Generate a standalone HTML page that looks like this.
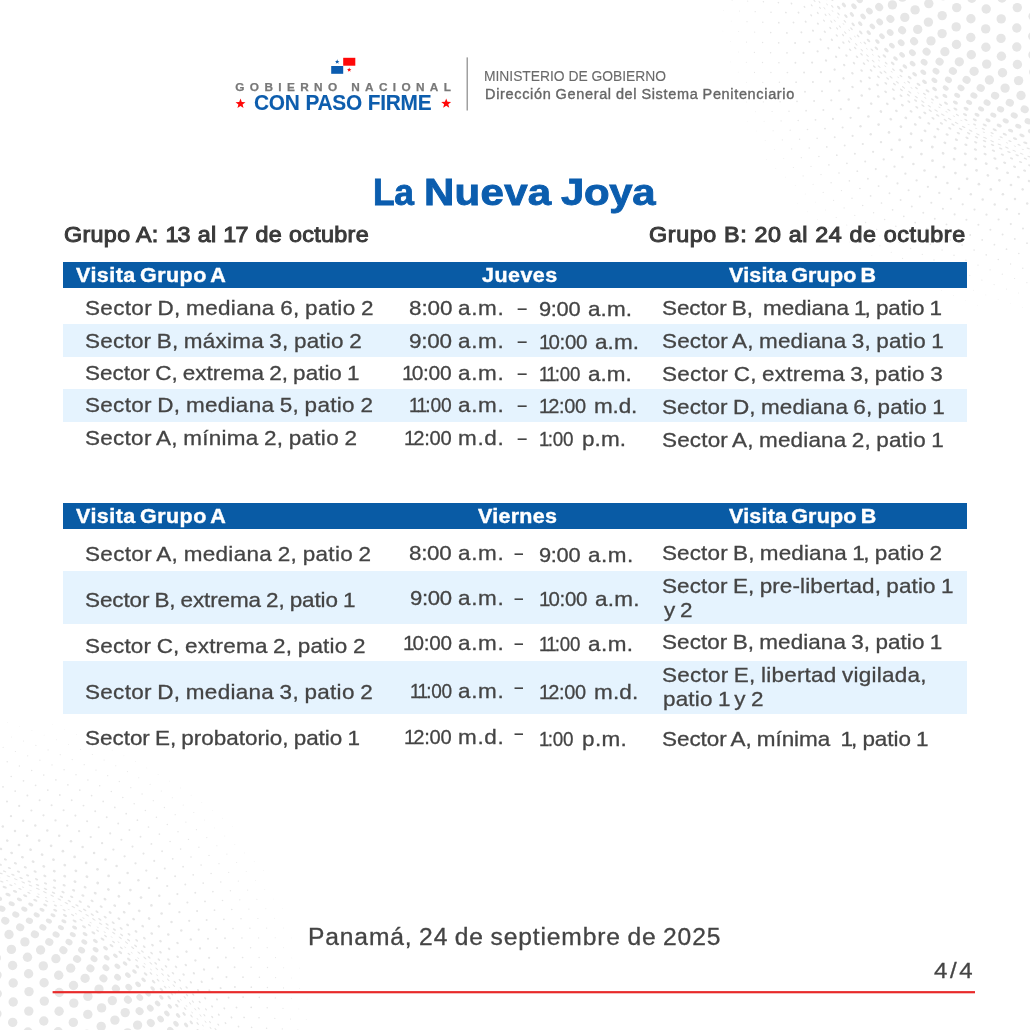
<!DOCTYPE html>
<html lang="es"><head><meta charset="utf-8"><title>La Nueva Joya</title>
<style>
html,body{margin:0;padding:0;background:#fff}
#page{position:relative;width:1030px;height:1030px;overflow:hidden;background:#fff;font-family:"Liberation Sans",sans-serif;color:#444444}
.t{position:absolute;white-space:pre;line-height:1;transform-origin:0 0}
.bar{position:absolute;left:63.2px;width:903.4px;background:#095ba5}
.st{position:absolute;left:63.2px;width:903.4px;background:#e5f3fe}
svg{position:absolute;left:0;top:0}
</style></head><body>
<div id="page">
<svg width="1030" height="1030" viewBox="0 0 1030 1030">
<g fill="#e6e6e6"><ellipse cx="-0.7" cy="877.6" rx="1.30" ry="0.39" transform="rotate(21 -0.7 877.6)"/><ellipse cx="7.2" cy="880.7" rx="1.30" ry="0.39" transform="rotate(21 7.2 880.7)"/><ellipse cx="15.1" cy="883.9" rx="1.30" ry="0.39" transform="rotate(22 15.1 883.9)"/><ellipse cx="23.0" cy="887.2" rx="1.30" ry="0.39" transform="rotate(23 23.0 887.2)"/><ellipse cx="30.7" cy="890.5" rx="1.30" ry="0.39" transform="rotate(24 30.7 890.5)"/><ellipse cx="38.5" cy="894.1" rx="1.30" ry="0.39" transform="rotate(25 38.5 894.1)"/><ellipse cx="46.1" cy="897.7" rx="1.30" ry="0.39" transform="rotate(26 46.1 897.7)"/><ellipse cx="53.8" cy="901.5" rx="1.30" ry="0.39" transform="rotate(27 53.8 901.5)"/><ellipse cx="61.3" cy="905.5" rx="1.30" ry="0.39" transform="rotate(28 61.3 905.5)"/><ellipse cx="68.7" cy="909.5" rx="1.30" ry="0.39" transform="rotate(29 68.7 909.5)"/><ellipse cx="76.1" cy="913.8" rx="1.30" ry="0.39" transform="rotate(30 76.1 913.8)"/><ellipse cx="83.4" cy="918.1" rx="1.30" ry="0.39" transform="rotate(31 83.4 918.1)"/><ellipse cx="90.6" cy="922.6" rx="1.30" ry="0.39" transform="rotate(33 90.6 922.6)"/><ellipse cx="97.7" cy="927.3" rx="1.30" ry="0.39" transform="rotate(34 97.7 927.3)"/><ellipse cx="104.7" cy="932.1" rx="1.30" ry="0.39" transform="rotate(35 104.7 932.1)"/><ellipse cx="111.7" cy="937.0" rx="1.30" ry="0.39" transform="rotate(36 111.7 937.0)"/><ellipse cx="118.5" cy="942.1" rx="1.30" ry="0.39" transform="rotate(37 118.5 942.1)"/><ellipse cx="125.2" cy="947.3" rx="1.30" ry="0.39" transform="rotate(38 125.2 947.3)"/><ellipse cx="131.8" cy="952.7" rx="1.30" ry="0.39" transform="rotate(40 131.8 952.7)"/><ellipse cx="138.3" cy="958.2" rx="1.30" ry="0.39" transform="rotate(41 138.3 958.2)"/><ellipse cx="144.7" cy="963.8" rx="1.30" ry="0.39" transform="rotate(42 144.7 963.8)"/><ellipse cx="151.0" cy="969.5" rx="1.30" ry="0.39" transform="rotate(43 151.0 969.5)"/><ellipse cx="157.2" cy="975.3" rx="1.30" ry="0.39" transform="rotate(44 157.2 975.3)"/><ellipse cx="163.2" cy="981.3" rx="1.30" ry="0.39" transform="rotate(45 163.2 981.3)"/><ellipse cx="169.2" cy="987.3" rx="1.30" ry="0.39" transform="rotate(46 169.2 987.3)"/><ellipse cx="175.1" cy="993.5" rx="1.30" ry="0.39" transform="rotate(47 175.1 993.5)"/><ellipse cx="180.8" cy="999.7" rx="1.30" ry="0.39" transform="rotate(48 180.8 999.7)"/><ellipse cx="186.5" cy="1006.0" rx="1.30" ry="0.39" transform="rotate(49 186.5 1006.0)"/><ellipse cx="192.1" cy="1012.5" rx="1.30" ry="0.39" transform="rotate(50 192.1 1012.5)"/><ellipse cx="197.5" cy="1019.0" rx="1.30" ry="0.39" transform="rotate(50 197.5 1019.0)"/><ellipse cx="202.9" cy="1025.6" rx="1.30" ry="0.39" transform="rotate(51 202.9 1025.6)"/><ellipse cx="208.2" cy="1032.2" rx="1.30" ry="0.39" transform="rotate(52 208.2 1032.2)"/><ellipse cx="1.8" cy="881.6" rx="1.78" ry="0.71" transform="rotate(21 1.8 881.6)"/><ellipse cx="10.9" cy="885.2" rx="1.78" ry="0.71" transform="rotate(22 10.9 885.2)"/><ellipse cx="20.0" cy="888.9" rx="1.78" ry="0.71" transform="rotate(23 20.0 888.9)"/><ellipse cx="28.9" cy="892.8" rx="1.78" ry="0.71" transform="rotate(24 28.9 892.8)"/><ellipse cx="37.9" cy="896.9" rx="1.78" ry="0.71" transform="rotate(25 37.9 896.9)"/><ellipse cx="46.7" cy="901.1" rx="1.78" ry="0.71" transform="rotate(26 46.7 901.1)"/><ellipse cx="55.4" cy="905.5" rx="1.78" ry="0.71" transform="rotate(27 55.4 905.5)"/><ellipse cx="64.1" cy="910.2" rx="1.78" ry="0.71" transform="rotate(29 64.1 910.2)"/><ellipse cx="72.6" cy="915.0" rx="1.78" ry="0.71" transform="rotate(30 72.6 915.0)"/><ellipse cx="81.1" cy="920.0" rx="1.78" ry="0.71" transform="rotate(31 81.1 920.0)"/><ellipse cx="89.4" cy="925.2" rx="1.78" ry="0.71" transform="rotate(33 89.4 925.2)"/><ellipse cx="97.6" cy="930.6" rx="1.78" ry="0.71" transform="rotate(34 97.6 930.6)"/><ellipse cx="105.6" cy="936.1" rx="1.78" ry="0.71" transform="rotate(35 105.6 936.1)"/><ellipse cx="113.5" cy="941.9" rx="1.78" ry="0.71" transform="rotate(37 113.5 941.9)"/><ellipse cx="121.3" cy="947.9" rx="1.78" ry="0.71" transform="rotate(38 121.3 947.9)"/><ellipse cx="129.0" cy="954.0" rx="1.78" ry="0.71" transform="rotate(39 129.0 954.0)"/><ellipse cx="136.5" cy="960.3" rx="1.78" ry="0.71" transform="rotate(41 136.5 960.3)"/><ellipse cx="143.8" cy="966.8" rx="1.78" ry="0.71" transform="rotate(42 143.8 966.8)"/><ellipse cx="151.0" cy="973.4" rx="1.78" ry="0.71" transform="rotate(43 151.0 973.4)"/><ellipse cx="158.1" cy="980.2" rx="1.78" ry="0.71" transform="rotate(44 158.1 980.2)"/><ellipse cx="165.1" cy="987.1" rx="1.78" ry="0.71" transform="rotate(45 165.1 987.1)"/><ellipse cx="171.9" cy="994.1" rx="1.78" ry="0.71" transform="rotate(47 171.9 994.1)"/><ellipse cx="178.5" cy="1001.3" rx="1.78" ry="0.71" transform="rotate(48 178.5 1001.3)"/><ellipse cx="185.1" cy="1008.6" rx="1.78" ry="0.71" transform="rotate(49 185.1 1008.6)"/><ellipse cx="191.5" cy="1016.1" rx="1.78" ry="0.71" transform="rotate(50 191.5 1016.1)"/><ellipse cx="197.7" cy="1023.6" rx="1.78" ry="0.71" transform="rotate(51 197.7 1023.6)"/><ellipse cx="203.9" cy="1031.2" rx="1.78" ry="0.71" transform="rotate(52 203.9 1031.2)"/><ellipse cx="-5.7" cy="883.3" rx="2.26" ry="1.13" transform="rotate(21 -5.7 883.3)"/><ellipse cx="4.7" cy="887.2" rx="2.26" ry="1.13" transform="rotate(21 4.7 887.2)"/><ellipse cx="15.0" cy="891.4" rx="2.26" ry="1.13" transform="rotate(23 15.0 891.4)"/><ellipse cx="25.2" cy="895.7" rx="2.26" ry="1.13" transform="rotate(24 25.2 895.7)"/><ellipse cx="35.3" cy="900.3" rx="2.26" ry="1.13" transform="rotate(25 35.3 900.3)"/><ellipse cx="45.3" cy="905.1" rx="2.26" ry="1.13" transform="rotate(26 45.3 905.1)"/><ellipse cx="55.2" cy="910.2" rx="2.26" ry="1.13" transform="rotate(28 55.2 910.2)"/><ellipse cx="65.0" cy="915.4" rx="2.26" ry="1.13" transform="rotate(29 65.0 915.4)"/><ellipse cx="74.6" cy="921.0" rx="2.26" ry="1.13" transform="rotate(31 74.6 921.0)"/><ellipse cx="84.0" cy="926.8" rx="2.26" ry="1.13" transform="rotate(32 84.0 926.8)"/><ellipse cx="93.4" cy="932.8" rx="2.26" ry="1.13" transform="rotate(34 93.4 932.8)"/><ellipse cx="102.5" cy="939.1" rx="2.26" ry="1.13" transform="rotate(35 102.5 939.1)"/><ellipse cx="111.5" cy="945.6" rx="2.26" ry="1.13" transform="rotate(37 111.5 945.6)"/><ellipse cx="120.3" cy="952.4" rx="2.26" ry="1.13" transform="rotate(38 120.3 952.4)"/><ellipse cx="128.9" cy="959.4" rx="2.26" ry="1.13" transform="rotate(40 128.9 959.4)"/><ellipse cx="137.3" cy="966.6" rx="2.26" ry="1.13" transform="rotate(41 137.3 966.6)"/><ellipse cx="145.6" cy="974.0" rx="2.26" ry="1.13" transform="rotate(43 145.6 974.0)"/><ellipse cx="153.6" cy="981.7" rx="2.26" ry="1.13" transform="rotate(44 153.6 981.7)"/><ellipse cx="161.5" cy="989.5" rx="2.26" ry="1.13" transform="rotate(45 161.5 989.5)"/><ellipse cx="169.2" cy="997.5" rx="2.26" ry="1.13" transform="rotate(47 169.2 997.5)"/><ellipse cx="176.8" cy="1005.6" rx="2.26" ry="1.13" transform="rotate(48 176.8 1005.6)"/><ellipse cx="184.1" cy="1013.9" rx="2.26" ry="1.13" transform="rotate(49 184.1 1013.9)"/><ellipse cx="191.3" cy="1022.4" rx="2.26" ry="1.13" transform="rotate(50 191.3 1022.4)"/><ellipse cx="198.3" cy="1031.0" rx="2.26" ry="1.13" transform="rotate(51 198.3 1031.0)"/><ellipse cx="-3.5" cy="890.0" rx="2.74" ry="1.64" transform="rotate(21 -3.5 890.0)"/><ellipse cx="8.0" cy="894.6" rx="2.74" ry="1.64" transform="rotate(22 8.0 894.6)"/><ellipse cx="19.4" cy="899.4" rx="2.74" ry="1.64" transform="rotate(23 19.4 899.4)"/><ellipse cx="30.8" cy="904.4" rx="2.74" ry="1.64" transform="rotate(25 30.8 904.4)"/><ellipse cx="42.0" cy="909.7" rx="2.74" ry="1.64" transform="rotate(26 42.0 909.7)"/><ellipse cx="53.0" cy="915.3" rx="2.74" ry="1.64" transform="rotate(28 53.0 915.3)"/><ellipse cx="63.9" cy="921.3" rx="2.74" ry="1.64" transform="rotate(29 63.9 921.3)"/><ellipse cx="74.6" cy="927.5" rx="2.74" ry="1.64" transform="rotate(31 74.6 927.5)"/><ellipse cx="85.1" cy="934.1" rx="2.74" ry="1.64" transform="rotate(33 85.1 934.1)"/><ellipse cx="95.4" cy="941.0" rx="2.74" ry="1.64" transform="rotate(35 95.4 941.0)"/><ellipse cx="105.5" cy="948.2" rx="2.74" ry="1.64" transform="rotate(36 105.5 948.2)"/><ellipse cx="115.4" cy="955.7" rx="2.74" ry="1.64" transform="rotate(38 115.4 955.7)"/><ellipse cx="125.1" cy="963.5" rx="2.74" ry="1.64" transform="rotate(40 125.1 963.5)"/><ellipse cx="134.5" cy="971.5" rx="2.74" ry="1.64" transform="rotate(41 134.5 971.5)"/><ellipse cx="143.6" cy="979.9" rx="2.74" ry="1.64" transform="rotate(43 143.6 979.9)"/><ellipse cx="152.6" cy="988.5" rx="2.74" ry="1.64" transform="rotate(45 152.6 988.5)"/><ellipse cx="161.3" cy="997.3" rx="2.74" ry="1.64" transform="rotate(46 161.3 997.3)"/><ellipse cx="169.8" cy="1006.3" rx="2.74" ry="1.64" transform="rotate(47 169.8 1006.3)"/><ellipse cx="178.1" cy="1015.5" rx="2.74" ry="1.64" transform="rotate(49 178.1 1015.5)"/><ellipse cx="186.1" cy="1025.0" rx="2.74" ry="1.64" transform="rotate(50 186.1 1025.0)"/><ellipse cx="194.0" cy="1034.6" rx="2.74" ry="1.64" transform="rotate(51 194.0 1034.6)"/><ellipse cx="-1.0" cy="898.5" rx="3.22" ry="2.25" transform="rotate(21 -1.0 898.5)"/><ellipse cx="11.7" cy="903.7" rx="3.22" ry="2.25" transform="rotate(23 11.7 903.7)"/><ellipse cx="24.3" cy="909.1" rx="3.22" ry="2.25" transform="rotate(24 24.3 909.1)"/><ellipse cx="36.7" cy="914.9" rx="3.22" ry="2.25" transform="rotate(26 36.7 914.9)"/><ellipse cx="48.9" cy="921.1" rx="3.22" ry="2.25" transform="rotate(28 48.9 921.1)"/><ellipse cx="60.9" cy="927.6" rx="3.22" ry="2.25" transform="rotate(30 60.9 927.6)"/><ellipse cx="72.8" cy="934.6" rx="3.22" ry="2.25" transform="rotate(31 72.8 934.6)"/><ellipse cx="84.3" cy="941.9" rx="3.22" ry="2.25" transform="rotate(33 84.3 941.9)"/><ellipse cx="95.6" cy="949.7" rx="3.22" ry="2.25" transform="rotate(35 95.6 949.7)"/><ellipse cx="106.7" cy="957.8" rx="3.22" ry="2.25" transform="rotate(37 106.7 957.8)"/><ellipse cx="117.4" cy="966.3" rx="3.22" ry="2.25" transform="rotate(39 117.4 966.3)"/><ellipse cx="127.9" cy="975.1" rx="3.22" ry="2.25" transform="rotate(41 127.9 975.1)"/><ellipse cx="138.1" cy="984.3" rx="3.22" ry="2.25" transform="rotate(43 138.1 984.3)"/><ellipse cx="148.0" cy="993.7" rx="3.22" ry="2.25" transform="rotate(45 148.0 993.7)"/><ellipse cx="157.6" cy="1003.5" rx="3.22" ry="2.25" transform="rotate(46 157.6 1003.5)"/><ellipse cx="166.9" cy="1013.5" rx="3.22" ry="2.25" transform="rotate(48 166.9 1013.5)"/><ellipse cx="176.0" cy="1023.8" rx="3.22" ry="2.25" transform="rotate(49 176.0 1023.8)"/><ellipse cx="184.8" cy="1034.3" rx="3.22" ry="2.25" transform="rotate(51 184.8 1034.3)"/><ellipse cx="1.9" cy="908.7" rx="3.70" ry="2.96" transform="rotate(22 1.9 908.7)"/><ellipse cx="15.8" cy="914.6" rx="3.70" ry="2.96" transform="rotate(24 15.8 914.6)"/><ellipse cx="29.4" cy="920.8" rx="3.70" ry="2.96" transform="rotate(25 29.4 920.8)"/><ellipse cx="42.9" cy="927.4" rx="3.70" ry="2.96" transform="rotate(27 42.9 927.4)"/><ellipse cx="56.1" cy="934.5" rx="3.70" ry="2.96" transform="rotate(29 56.1 934.5)"/><ellipse cx="69.0" cy="942.1" rx="3.70" ry="2.96" transform="rotate(32 69.0 942.1)"/><ellipse cx="81.6" cy="950.2" rx="3.70" ry="2.96" transform="rotate(34 81.6 950.2)"/><ellipse cx="94.0" cy="958.8" rx="3.70" ry="2.96" transform="rotate(36 94.0 958.8)"/><ellipse cx="105.9" cy="967.8" rx="3.70" ry="2.96" transform="rotate(38 105.9 967.8)"/><ellipse cx="117.6" cy="977.3" rx="3.70" ry="2.96" transform="rotate(40 117.6 977.3)"/><ellipse cx="128.8" cy="987.2" rx="3.70" ry="2.96" transform="rotate(42 128.8 987.2)"/><ellipse cx="139.8" cy="997.5" rx="3.70" ry="2.96" transform="rotate(44 139.8 997.5)"/><ellipse cx="150.3" cy="1008.1" rx="3.70" ry="2.96" transform="rotate(46 150.3 1008.1)"/><ellipse cx="160.6" cy="1019.0" rx="3.70" ry="2.96" transform="rotate(48 160.6 1019.0)"/><ellipse cx="170.5" cy="1030.3" rx="3.70" ry="2.96" transform="rotate(49 170.5 1030.3)"/><ellipse cx="5.3" cy="920.7" rx="4.18" ry="3.76" transform="rotate(23 5.3 920.7)"/><ellipse cx="20.2" cy="927.3" rx="4.18" ry="3.76" transform="rotate(25 20.2 927.3)"/><ellipse cx="34.9" cy="934.3" rx="4.18" ry="3.76" transform="rotate(27 34.9 934.3)"/><ellipse cx="49.3" cy="942.0" rx="4.18" ry="3.76" transform="rotate(29 49.3 942.0)"/><ellipse cx="63.4" cy="950.2" rx="4.18" ry="3.76" transform="rotate(31 63.4 950.2)"/><ellipse cx="77.1" cy="959.0" rx="4.18" ry="3.76" transform="rotate(34 77.1 959.0)"/><ellipse cx="90.4" cy="968.4" rx="4.18" ry="3.76" transform="rotate(36 90.4 968.4)"/><ellipse cx="103.4" cy="978.3" rx="4.18" ry="3.76" transform="rotate(39 103.4 978.3)"/><ellipse cx="115.9" cy="988.7" rx="4.18" ry="3.76" transform="rotate(41 115.9 988.7)"/><ellipse cx="127.9" cy="999.7" rx="4.18" ry="3.76" transform="rotate(43 127.9 999.7)"/><ellipse cx="139.6" cy="1011.1" rx="4.18" ry="3.76" transform="rotate(45 139.6 1011.1)"/><ellipse cx="150.8" cy="1022.9" rx="4.18" ry="3.76" transform="rotate(47 150.8 1022.9)"/><ellipse cx="161.7" cy="1035.1" rx="4.18" ry="3.76" transform="rotate(49 161.7 1035.1)"/><circle cx="9.0" cy="934.5" r="4.66"/><circle cx="24.9" cy="941.9" r="4.66"/><circle cx="40.6" cy="950.0" r="4.66"/><circle cx="55.9" cy="958.7" r="4.66"/><circle cx="70.7" cy="968.2" r="4.66"/><circle cx="85.1" cy="978.3" r="4.66"/><circle cx="99.0" cy="989.1" r="4.66"/><circle cx="112.3" cy="1000.6" r="4.66"/><circle cx="125.2" cy="1012.6" r="4.66"/><circle cx="137.6" cy="1025.1" r="4.66"/><circle cx="-5.1" cy="942.2" r="4.70"/><circle cx="11.4" cy="949.4" r="4.70"/><circle cx="27.5" cy="957.3" r="4.70"/><circle cx="43.3" cy="965.9" r="4.70"/><circle cx="58.7" cy="975.3" r="4.70"/><circle cx="73.5" cy="985.5" r="4.70"/><circle cx="87.9" cy="996.4" r="4.70"/><circle cx="101.6" cy="1007.9" r="4.70"/><circle cx="114.9" cy="1020.1" r="4.70"/><circle cx="127.6" cy="1032.9" r="4.70"/><circle cx="-3.8" cy="957.9" r="4.70"/><circle cx="12.6" cy="965.5" r="4.70"/><circle cx="28.6" cy="973.7" r="4.70"/><circle cx="44.1" cy="982.7" r="4.70"/><circle cx="59.2" cy="992.5" r="4.70"/><circle cx="73.8" cy="1003.1" r="4.70"/><circle cx="87.8" cy="1014.4" r="4.70"/><circle cx="101.2" cy="1026.4" r="4.70"/><circle cx="-3.0" cy="975.1" r="4.70"/><circle cx="13.2" cy="983.0" r="4.70"/><circle cx="29.0" cy="991.6" r="4.70"/><circle cx="44.3" cy="1001.1" r="4.70"/><circle cx="59.1" cy="1011.3" r="4.70"/><circle cx="73.3" cy="1022.4" r="4.70"/><circle cx="86.9" cy="1034.2" r="4.70"/><circle cx="-2.8" cy="993.8" r="4.70"/><circle cx="13.2" cy="1002.0" r="4.70"/><circle cx="28.8" cy="1011.1" r="4.70"/><circle cx="43.8" cy="1021.0" r="4.70"/><circle cx="58.2" cy="1031.8" r="4.70"/><circle cx="-3.1" cy="1013.8" r="4.70"/><circle cx="12.7" cy="1022.4" r="4.70"/><circle cx="28.0" cy="1032.0" r="4.70"/><circle cx="-3.5" cy="1033.9" r="4.70"/><ellipse cx="0.9" cy="873.4" rx="1.98" ry="0.59" transform="rotate(21 0.9 873.4)"/><ellipse cx="8.4" cy="876.3" rx="2.00" ry="0.60" transform="rotate(21 8.4 876.3)"/><ellipse cx="15.8" cy="879.3" rx="2.02" ry="0.61" transform="rotate(22 15.8 879.3)"/><ellipse cx="23.2" cy="882.4" rx="2.04" ry="0.61" transform="rotate(23 23.2 882.4)"/><ellipse cx="30.5" cy="885.5" rx="2.05" ry="0.62" transform="rotate(24 30.5 885.5)"/><ellipse cx="37.8" cy="888.8" rx="2.07" ry="0.62" transform="rotate(25 37.8 888.8)"/><ellipse cx="45.0" cy="892.2" rx="2.08" ry="0.62" transform="rotate(26 45.0 892.2)"/><ellipse cx="52.2" cy="895.7" rx="2.08" ry="0.62" transform="rotate(27 52.2 895.7)"/><ellipse cx="59.4" cy="899.4" rx="2.09" ry="0.63" transform="rotate(28 59.4 899.4)"/><ellipse cx="66.4" cy="903.1" rx="2.09" ry="0.63" transform="rotate(29 66.4 903.1)"/><ellipse cx="73.4" cy="907.0" rx="2.09" ry="0.63" transform="rotate(30 73.4 907.0)"/><ellipse cx="80.3" cy="911.0" rx="2.09" ry="0.63" transform="rotate(31 80.3 911.0)"/><ellipse cx="87.2" cy="915.2" rx="2.08" ry="0.62" transform="rotate(32 87.2 915.2)"/><ellipse cx="93.9" cy="919.4" rx="2.07" ry="0.62" transform="rotate(33 93.9 919.4)"/><ellipse cx="100.6" cy="923.8" rx="2.06" ry="0.62" transform="rotate(34 100.6 923.8)"/><ellipse cx="107.2" cy="928.3" rx="2.05" ry="0.62" transform="rotate(35 107.2 928.3)"/><ellipse cx="113.7" cy="933.0" rx="2.04" ry="0.61" transform="rotate(36 113.7 933.0)"/><ellipse cx="120.2" cy="937.8" rx="2.02" ry="0.61" transform="rotate(37 120.2 937.8)"/><ellipse cx="126.5" cy="942.6" rx="2.00" ry="0.60" transform="rotate(38 126.5 942.6)"/><ellipse cx="132.7" cy="947.7" rx="1.98" ry="0.59" transform="rotate(39 132.7 947.7)"/><ellipse cx="138.9" cy="952.8" rx="1.96" ry="0.59" transform="rotate(40 138.9 952.8)"/><ellipse cx="144.9" cy="958.0" rx="1.93" ry="0.58" transform="rotate(41 144.9 958.0)"/><ellipse cx="150.9" cy="963.3" rx="1.90" ry="0.57" transform="rotate(42 150.9 963.3)"/><ellipse cx="156.8" cy="968.8" rx="1.88" ry="0.56" transform="rotate(43 156.8 968.8)"/><ellipse cx="162.6" cy="974.3" rx="1.84" ry="0.55" transform="rotate(44 162.6 974.3)"/><ellipse cx="168.2" cy="979.9" rx="1.81" ry="0.54" transform="rotate(45 168.2 979.9)"/><ellipse cx="173.8" cy="985.6" rx="1.78" ry="0.53" transform="rotate(46 173.8 985.6)"/><ellipse cx="179.3" cy="991.4" rx="1.74" ry="0.52" transform="rotate(47 179.3 991.4)"/><ellipse cx="184.8" cy="997.3" rx="1.70" ry="0.51" transform="rotate(48 184.8 997.3)"/><ellipse cx="190.1" cy="1003.3" rx="1.67" ry="0.50" transform="rotate(49 190.1 1003.3)"/><ellipse cx="195.3" cy="1009.3" rx="1.63" ry="0.49" transform="rotate(49 195.3 1009.3)"/><ellipse cx="200.5" cy="1015.5" rx="1.58" ry="0.48" transform="rotate(50 200.5 1015.5)"/><ellipse cx="205.5" cy="1021.7" rx="1.54" ry="0.46" transform="rotate(51 205.5 1021.7)"/><ellipse cx="210.5" cy="1027.9" rx="1.49" ry="0.45" transform="rotate(52 210.5 1027.9)"/><ellipse cx="215.4" cy="1034.2" rx="1.45" ry="0.43" transform="rotate(53 215.4 1034.2)"/><ellipse cx="-3.7" cy="868.3" rx="1.81" ry="0.76" transform="rotate(20 -3.7 868.3)"/><ellipse cx="4.6" cy="871.4" rx="1.83" ry="0.77" transform="rotate(21 4.6 871.4)"/><ellipse cx="12.9" cy="874.7" rx="1.86" ry="0.78" transform="rotate(22 12.9 874.7)"/><ellipse cx="21.1" cy="878.0" rx="1.87" ry="0.79" transform="rotate(23 21.1 878.0)"/><ellipse cx="29.3" cy="881.5" rx="1.89" ry="0.79" transform="rotate(23 29.3 881.5)"/><ellipse cx="37.5" cy="885.1" rx="1.90" ry="0.80" transform="rotate(24 37.5 885.1)"/><ellipse cx="45.5" cy="888.9" rx="1.92" ry="0.80" transform="rotate(25 45.5 888.9)"/><ellipse cx="53.5" cy="892.8" rx="1.92" ry="0.81" transform="rotate(27 53.5 892.8)"/><ellipse cx="61.4" cy="896.8" rx="1.93" ry="0.81" transform="rotate(28 61.4 896.8)"/><ellipse cx="69.3" cy="901.0" rx="1.93" ry="0.81" transform="rotate(29 69.3 901.0)"/><ellipse cx="77.0" cy="905.4" rx="1.93" ry="0.81" transform="rotate(30 77.0 905.4)"/><ellipse cx="84.7" cy="909.9" rx="1.93" ry="0.81" transform="rotate(31 84.7 909.9)"/><ellipse cx="92.3" cy="914.6" rx="1.92" ry="0.81" transform="rotate(32 92.3 914.6)"/><ellipse cx="99.8" cy="919.4" rx="1.91" ry="0.80" transform="rotate(33 99.8 919.4)"/><ellipse cx="107.1" cy="924.4" rx="1.90" ry="0.80" transform="rotate(35 107.1 924.4)"/><ellipse cx="114.4" cy="929.5" rx="1.88" ry="0.79" transform="rotate(36 114.4 929.5)"/><ellipse cx="121.6" cy="934.8" rx="1.87" ry="0.78" transform="rotate(37 121.6 934.8)"/><ellipse cx="128.6" cy="940.2" rx="1.85" ry="0.78" transform="rotate(38 128.6 940.2)"/><ellipse cx="135.6" cy="945.8" rx="1.83" ry="0.77" transform="rotate(39 135.6 945.8)"/><ellipse cx="142.4" cy="951.5" rx="1.80" ry="0.76" transform="rotate(41 142.4 951.5)"/><ellipse cx="149.1" cy="957.4" rx="1.77" ry="0.75" transform="rotate(42 149.1 957.4)"/><ellipse cx="155.7" cy="963.4" rx="1.75" ry="0.73" transform="rotate(43 155.7 963.4)"/><ellipse cx="162.2" cy="969.5" rx="1.72" ry="0.72" transform="rotate(44 162.2 969.5)"/><ellipse cx="168.5" cy="975.7" rx="1.68" ry="0.71" transform="rotate(45 168.5 975.7)"/><ellipse cx="174.8" cy="982.0" rx="1.65" ry="0.69" transform="rotate(46 174.8 982.0)"/><ellipse cx="180.9" cy="988.4" rx="1.61" ry="0.68" transform="rotate(47 180.9 988.4)"/><ellipse cx="187.0" cy="995.0" rx="1.57" ry="0.66" transform="rotate(48 187.0 995.0)"/><ellipse cx="192.9" cy="1001.6" rx="1.53" ry="0.64" transform="rotate(49 192.9 1001.6)"/><ellipse cx="198.7" cy="1008.4" rx="1.49" ry="0.63" transform="rotate(50 198.7 1008.4)"/><ellipse cx="204.4" cy="1015.2" rx="1.45" ry="0.61" transform="rotate(51 204.4 1015.2)"/><ellipse cx="210.0" cy="1022.1" rx="1.40" ry="0.59" transform="rotate(51 210.0 1022.1)"/><ellipse cx="215.5" cy="1029.1" rx="1.35" ry="0.57" transform="rotate(52 215.5 1029.1)"/><ellipse cx="0.3" cy="864.6" rx="1.69" ry="0.91" transform="rotate(20 0.3 864.6)"/><ellipse cx="9.4" cy="868.0" rx="1.72" ry="0.93" transform="rotate(21 9.4 868.0)"/><ellipse cx="18.5" cy="871.7" rx="1.74" ry="0.94" transform="rotate(22 18.5 871.7)"/><ellipse cx="27.6" cy="875.4" rx="1.75" ry="0.95" transform="rotate(23 27.6 875.4)"/><ellipse cx="36.6" cy="879.3" rx="1.77" ry="0.96" transform="rotate(24 36.6 879.3)"/><ellipse cx="45.5" cy="883.4" rx="1.78" ry="0.96" transform="rotate(25 45.5 883.4)"/><ellipse cx="54.3" cy="887.7" rx="1.79" ry="0.97" transform="rotate(26 54.3 887.7)"/><ellipse cx="63.0" cy="892.1" rx="1.80" ry="0.97" transform="rotate(28 63.0 892.1)"/><ellipse cx="71.7" cy="896.8" rx="1.80" ry="0.97" transform="rotate(29 71.7 896.8)"/><ellipse cx="80.2" cy="901.6" rx="1.80" ry="0.97" transform="rotate(30 80.2 901.6)"/><ellipse cx="88.6" cy="906.6" rx="1.79" ry="0.97" transform="rotate(31 88.6 906.6)"/><ellipse cx="97.0" cy="911.7" rx="1.79" ry="0.96" transform="rotate(33 97.0 911.7)"/><ellipse cx="105.2" cy="917.1" rx="1.78" ry="0.96" transform="rotate(34 105.2 917.1)"/><ellipse cx="113.2" cy="922.7" rx="1.76" ry="0.95" transform="rotate(35 113.2 922.7)"/><ellipse cx="121.2" cy="928.4" rx="1.75" ry="0.94" transform="rotate(36 121.2 928.4)"/><ellipse cx="129.0" cy="934.3" rx="1.73" ry="0.93" transform="rotate(38 129.0 934.3)"/><ellipse cx="136.7" cy="940.4" rx="1.71" ry="0.92" transform="rotate(39 136.7 940.4)"/><ellipse cx="144.2" cy="946.7" rx="1.68" ry="0.91" transform="rotate(40 144.2 946.7)"/><ellipse cx="151.6" cy="953.1" rx="1.66" ry="0.89" transform="rotate(42 151.6 953.1)"/><ellipse cx="158.9" cy="959.6" rx="1.63" ry="0.88" transform="rotate(43 158.9 959.6)"/><ellipse cx="166.0" cy="966.4" rx="1.59" ry="0.86" transform="rotate(44 166.0 966.4)"/><ellipse cx="173.0" cy="973.2" rx="1.56" ry="0.84" transform="rotate(45 173.0 973.2)"/><ellipse cx="179.9" cy="980.2" rx="1.52" ry="0.82" transform="rotate(46 179.9 980.2)"/><ellipse cx="186.6" cy="987.4" rx="1.49" ry="0.80" transform="rotate(47 186.6 987.4)"/><ellipse cx="193.2" cy="994.6" rx="1.45" ry="0.78" transform="rotate(48 193.2 994.6)"/><ellipse cx="199.7" cy="1002.0" rx="1.40" ry="0.76" transform="rotate(49 199.7 1002.0)"/><ellipse cx="206.0" cy="1009.4" rx="1.36" ry="0.73" transform="rotate(50 206.0 1009.4)"/><ellipse cx="212.2" cy="1017.0" rx="1.31" ry="0.71" transform="rotate(51 212.2 1017.0)"/><ellipse cx="218.3" cy="1024.7" rx="1.26" ry="0.68" transform="rotate(52 218.3 1024.7)"/><ellipse cx="224.3" cy="1032.5" rx="1.21" ry="0.65" transform="rotate(53 224.3 1032.5)"/><ellipse cx="-4.6" cy="855.7" rx="1.56" ry="1.03" transform="rotate(20 -4.6 855.7)"/><ellipse cx="5.4" cy="859.4" rx="1.59" ry="1.05" transform="rotate(21 5.4 859.4)"/><ellipse cx="15.4" cy="863.3" rx="1.61" ry="1.06" transform="rotate(22 15.4 863.3)"/><ellipse cx="25.3" cy="867.3" rx="1.63" ry="1.08" transform="rotate(23 25.3 867.3)"/><ellipse cx="35.1" cy="871.5" rx="1.65" ry="1.09" transform="rotate(24 35.1 871.5)"/><ellipse cx="44.9" cy="875.9" rx="1.66" ry="1.10" transform="rotate(25 44.9 875.9)"/><ellipse cx="54.6" cy="880.5" rx="1.67" ry="1.10" transform="rotate(26 54.6 880.5)"/><ellipse cx="64.1" cy="885.3" rx="1.68" ry="1.11" transform="rotate(27 64.1 885.3)"/><ellipse cx="73.6" cy="890.3" rx="1.68" ry="1.11" transform="rotate(29 73.6 890.3)"/><ellipse cx="82.9" cy="895.5" rx="1.68" ry="1.11" transform="rotate(30 82.9 895.5)"/><ellipse cx="92.1" cy="900.9" rx="1.68" ry="1.11" transform="rotate(31 92.1 900.9)"/><ellipse cx="101.2" cy="906.6" rx="1.67" ry="1.10" transform="rotate(33 101.2 906.6)"/><ellipse cx="110.1" cy="912.5" rx="1.66" ry="1.10" transform="rotate(34 110.1 912.5)"/><ellipse cx="118.9" cy="918.6" rx="1.65" ry="1.09" transform="rotate(35 118.9 918.6)"/><ellipse cx="127.6" cy="924.9" rx="1.63" ry="1.08" transform="rotate(37 127.6 924.9)"/><ellipse cx="136.0" cy="931.4" rx="1.61" ry="1.06" transform="rotate(38 136.0 931.4)"/><ellipse cx="144.4" cy="938.2" rx="1.59" ry="1.05" transform="rotate(40 144.4 938.2)"/><ellipse cx="152.5" cy="945.1" rx="1.56" ry="1.03" transform="rotate(41 152.5 945.1)"/><ellipse cx="160.5" cy="952.2" rx="1.53" ry="1.01" transform="rotate(42 160.5 952.2)"/><ellipse cx="168.4" cy="959.5" rx="1.50" ry="0.99" transform="rotate(44 168.4 959.5)"/><ellipse cx="176.0" cy="966.9" rx="1.46" ry="0.97" transform="rotate(45 176.0 966.9)"/><ellipse cx="183.6" cy="974.5" rx="1.43" ry="0.94" transform="rotate(46 183.6 974.5)"/><ellipse cx="190.9" cy="982.3" rx="1.39" ry="0.92" transform="rotate(47 190.9 982.3)"/><ellipse cx="198.1" cy="990.2" rx="1.35" ry="0.89" transform="rotate(48 198.1 990.2)"/><ellipse cx="205.2" cy="998.3" rx="1.30" ry="0.86" transform="rotate(49 205.2 998.3)"/><ellipse cx="212.1" cy="1006.4" rx="1.26" ry="0.83" transform="rotate(50 212.1 1006.4)"/><ellipse cx="218.8" cy="1014.7" rx="1.21" ry="0.80" transform="rotate(51 218.8 1014.7)"/><ellipse cx="225.5" cy="1023.1" rx="1.16" ry="0.76" transform="rotate(52 225.5 1023.1)"/><ellipse cx="231.9" cy="1031.7" rx="1.10" ry="0.73" transform="rotate(53 231.9 1031.7)"/><ellipse cx="0.8" cy="848.9" rx="1.47" ry="1.14" transform="rotate(20 0.8 848.9)"/><ellipse cx="11.6" cy="852.9" rx="1.49" ry="1.17" transform="rotate(21 11.6 852.9)"/><ellipse cx="22.4" cy="857.2" rx="1.52" ry="1.18" transform="rotate(22 22.4 857.2)"/><ellipse cx="33.1" cy="861.6" rx="1.54" ry="1.20" transform="rotate(23 33.1 861.6)"/><ellipse cx="43.8" cy="866.3" rx="1.55" ry="1.21" transform="rotate(24 43.8 866.3)"/><ellipse cx="54.3" cy="871.1" rx="1.56" ry="1.22" transform="rotate(26 54.3 871.1)"/><ellipse cx="64.7" cy="876.2" rx="1.57" ry="1.23" transform="rotate(27 64.7 876.2)"/><ellipse cx="75.0" cy="881.6" rx="1.58" ry="1.23" transform="rotate(28 75.0 881.6)"/><ellipse cx="85.1" cy="887.2" rx="1.58" ry="1.23" transform="rotate(30 85.1 887.2)"/><ellipse cx="95.2" cy="893.1" rx="1.57" ry="1.23" transform="rotate(31 95.2 893.1)"/><ellipse cx="105.0" cy="899.2" rx="1.57" ry="1.22" transform="rotate(33 105.0 899.2)"/><ellipse cx="114.7" cy="905.6" rx="1.56" ry="1.21" transform="rotate(34 114.7 905.6)"/><ellipse cx="124.2" cy="912.2" rx="1.54" ry="1.20" transform="rotate(36 124.2 912.2)"/><ellipse cx="133.6" cy="919.1" rx="1.52" ry="1.19" transform="rotate(37 133.6 919.1)"/><ellipse cx="142.7" cy="926.2" rx="1.50" ry="1.17" transform="rotate(39 142.7 926.2)"/><ellipse cx="151.7" cy="933.5" rx="1.48" ry="1.15" transform="rotate(40 151.7 933.5)"/><ellipse cx="160.5" cy="941.1" rx="1.45" ry="1.13" transform="rotate(41 160.5 941.1)"/><ellipse cx="169.1" cy="948.8" rx="1.42" ry="1.11" transform="rotate(43 169.1 948.8)"/><ellipse cx="177.6" cy="956.8" rx="1.39" ry="1.08" transform="rotate(44 177.6 956.8)"/><ellipse cx="185.8" cy="965.0" rx="1.35" ry="1.05" transform="rotate(45 185.8 965.0)"/><ellipse cx="193.9" cy="973.3" rx="1.31" ry="1.02" transform="rotate(47 193.9 973.3)"/><ellipse cx="201.7" cy="981.8" rx="1.27" ry="0.99" transform="rotate(48 201.7 981.8)"/><ellipse cx="209.4" cy="990.5" rx="1.22" ry="0.95" transform="rotate(49 209.4 990.5)"/><ellipse cx="217.0" cy="999.3" rx="1.18" ry="0.92" transform="rotate(50 217.0 999.3)"/><ellipse cx="224.3" cy="1008.3" rx="1.13" ry="0.88" transform="rotate(51 224.3 1008.3)"/><ellipse cx="231.5" cy="1017.4" rx="1.07" ry="0.84" transform="rotate(52 231.5 1017.4)"/><ellipse cx="238.5" cy="1026.6" rx="1.02" ry="0.79" transform="rotate(53 238.5 1026.6)"/><ellipse cx="245.4" cy="1036.0" rx="0.96" ry="0.75" transform="rotate(54 245.4 1036.0)"/><ellipse cx="-4.4" cy="836.4" rx="1.35" ry="1.21" transform="rotate(19 -4.4 836.4)"/><ellipse cx="7.3" cy="840.6" rx="1.38" ry="1.24" transform="rotate(20 7.3 840.6)"/><ellipse cx="19.0" cy="845.0" rx="1.40" ry="1.26" transform="rotate(21 19.0 845.0)"/><ellipse cx="30.6" cy="849.7" rx="1.43" ry="1.28" transform="rotate(22 30.6 849.7)"/><ellipse cx="42.1" cy="854.6" rx="1.44" ry="1.30" transform="rotate(24 42.1 854.6)"/><ellipse cx="53.5" cy="859.7" rx="1.46" ry="1.31" transform="rotate(25 53.5 859.7)"/><ellipse cx="64.8" cy="865.1" rx="1.47" ry="1.32" transform="rotate(26 64.8 865.1)"/><ellipse cx="75.9" cy="870.8" rx="1.47" ry="1.32" transform="rotate(28 75.9 870.8)"/><ellipse cx="86.9" cy="876.7" rx="1.47" ry="1.33" transform="rotate(29 86.9 876.7)"/><ellipse cx="97.7" cy="883.0" rx="1.47" ry="1.32" transform="rotate(31 97.7 883.0)"/><ellipse cx="108.4" cy="889.5" rx="1.46" ry="1.32" transform="rotate(32 108.4 889.5)"/><ellipse cx="118.9" cy="896.3" rx="1.45" ry="1.31" transform="rotate(34 118.9 896.3)"/><ellipse cx="129.1" cy="903.4" rx="1.44" ry="1.30" transform="rotate(35 129.1 903.4)"/><ellipse cx="139.2" cy="910.8" rx="1.42" ry="1.28" transform="rotate(37 139.2 910.8)"/><ellipse cx="149.1" cy="918.5" rx="1.40" ry="1.26" transform="rotate(39 149.1 918.5)"/><ellipse cx="158.8" cy="926.4" rx="1.38" ry="1.24" transform="rotate(40 158.8 926.4)"/><ellipse cx="168.3" cy="934.5" rx="1.35" ry="1.21" transform="rotate(42 168.3 934.5)"/><ellipse cx="177.5" cy="943.0" rx="1.32" ry="1.18" transform="rotate(43 177.5 943.0)"/><ellipse cx="186.5" cy="951.6" rx="1.28" ry="1.15" transform="rotate(44 186.5 951.6)"/><ellipse cx="195.4" cy="960.4" rx="1.24" ry="1.12" transform="rotate(46 195.4 960.4)"/><ellipse cx="204.0" cy="969.5" rx="1.20" ry="1.08" transform="rotate(47 204.0 969.5)"/><ellipse cx="212.4" cy="978.7" rx="1.16" ry="1.04" transform="rotate(48 212.4 978.7)"/><ellipse cx="220.6" cy="988.2" rx="1.11" ry="1.00" transform="rotate(50 220.6 988.2)"/><ellipse cx="228.6" cy="997.7" rx="1.06" ry="0.95" transform="rotate(51 228.6 997.7)"/><ellipse cx="236.5" cy="1007.5" rx="1.01" ry="0.91" transform="rotate(52 236.5 1007.5)"/><ellipse cx="244.1" cy="1017.4" rx="0.95" ry="0.85" transform="rotate(53 244.1 1017.4)"/><ellipse cx="251.6" cy="1027.4" rx="0.89" ry="0.80" transform="rotate(54 251.6 1027.4)"/><circle cx="2.8" cy="826.5" r="1.25"/><circle cx="15.0" cy="831.0" r="1.28"/><circle cx="27.1" cy="835.7" r="1.31"/><circle cx="39.2" cy="840.6" r="1.33"/><circle cx="51.1" cy="845.8" r="1.34"/><circle cx="62.9" cy="851.2" r="1.36"/><circle cx="74.6" cy="856.9" r="1.36"/><circle cx="86.1" cy="862.9" r="1.37"/><circle cx="97.5" cy="869.3" r="1.37"/><circle cx="108.6" cy="875.9" r="1.36"/><circle cx="119.6" cy="882.8" r="1.36"/><circle cx="130.4" cy="890.1" r="1.34"/><circle cx="141.0" cy="897.6" r="1.33"/><circle cx="151.4" cy="905.4" r="1.31"/><circle cx="161.6" cy="913.5" r="1.29"/><circle cx="171.5" cy="921.9" r="1.26"/><circle cx="181.3" cy="930.5" r="1.23"/><circle cx="190.8" cy="939.4" r="1.20"/><circle cx="200.0" cy="948.5" r="1.16"/><circle cx="209.1" cy="957.8" r="1.12"/><circle cx="217.9" cy="967.4" r="1.08"/><circle cx="226.5" cy="977.1" r="1.03"/><circle cx="234.9" cy="987.0" r="0.98"/><circle cx="243.1" cy="997.1" r="0.93"/><circle cx="251.2" cy="1007.3" r="0.87"/><circle cx="259.0" cy="1017.7" r="0.81"/><circle cx="266.6" cy="1028.3" r="0.75"/><circle cx="-1.2" cy="811.8" r="1.13"/><circle cx="11.0" cy="816.2" r="1.16"/><circle cx="23.2" cy="820.7" r="1.19"/><circle cx="35.3" cy="825.5" r="1.21"/><circle cx="47.3" cy="830.5" r="1.23"/><circle cx="59.2" cy="835.7" r="1.24"/><circle cx="71.0" cy="841.2" r="1.25"/><circle cx="82.6" cy="847.0" r="1.26"/><circle cx="94.1" cy="853.1" r="1.26"/><circle cx="105.5" cy="859.4" r="1.26"/><circle cx="116.6" cy="866.1" r="1.26"/><circle cx="127.6" cy="873.1" r="1.25"/><circle cx="138.4" cy="880.3" r="1.24"/><circle cx="149.0" cy="887.9" r="1.22"/><circle cx="159.3" cy="895.7" r="1.20"/><circle cx="169.5" cy="903.8" r="1.18"/><circle cx="179.4" cy="912.2" r="1.16"/><circle cx="189.2" cy="920.8" r="1.13"/><circle cx="198.7" cy="929.7" r="1.10"/><circle cx="208.0" cy="938.8" r="1.06"/><circle cx="217.1" cy="948.1" r="1.02"/><circle cx="225.9" cy="957.6" r="0.98"/><circle cx="234.6" cy="967.3" r="0.94"/><circle cx="243.0" cy="977.2" r="0.89"/><circle cx="251.3" cy="987.2" r="0.84"/><circle cx="259.3" cy="997.4" r="0.78"/><circle cx="267.2" cy="1007.8" r="0.73"/><circle cx="274.8" cy="1018.3" r="0.66"/><circle cx="282.3" cy="1028.9" r="0.60"/><circle cx="-5.3" cy="797.2" r="1.01"/><circle cx="7.0" cy="801.5" r="1.04"/><circle cx="19.2" cy="805.9" r="1.07"/><circle cx="31.4" cy="810.5" r="1.09"/><circle cx="43.5" cy="815.3" r="1.12"/><circle cx="55.5" cy="820.4" r="1.13"/><circle cx="67.3" cy="825.7" r="1.14"/><circle cx="79.1" cy="831.2" r="1.15"/><circle cx="90.7" cy="837.1" r="1.16"/><circle cx="102.1" cy="843.2" r="1.16"/><circle cx="113.4" cy="849.6" r="1.16"/><circle cx="124.6" cy="856.3" r="1.15"/><circle cx="135.5" cy="863.3" r="1.15"/><circle cx="146.3" cy="870.6" r="1.14"/><circle cx="156.9" cy="878.2" r="1.12"/><circle cx="167.2" cy="886.0" r="1.10"/><circle cx="177.4" cy="894.1" r="1.08"/><circle cx="187.4" cy="902.5" r="1.06"/><circle cx="197.1" cy="911.1" r="1.03"/><circle cx="206.6" cy="920.0" r="1.00"/><circle cx="215.9" cy="929.0" r="0.97"/><circle cx="225.0" cy="938.3" r="0.93"/><circle cx="233.9" cy="947.8" r="0.89"/><circle cx="242.6" cy="957.5" r="0.85"/><circle cx="251.1" cy="967.3" r="0.80"/><circle cx="259.4" cy="977.3" r="0.75"/><circle cx="267.4" cy="987.5" r="0.70"/><circle cx="275.3" cy="997.9" r="0.64"/><circle cx="283.0" cy="1008.3" r="0.58"/><circle cx="290.6" cy="1018.9" r="0.51"/><circle cx="297.9" cy="1029.6" r="0.44"/><circle cx="3.0" cy="786.8" r="0.92"/><circle cx="15.2" cy="791.1" r="0.95"/><circle cx="27.4" cy="795.6" r="0.98"/><circle cx="39.6" cy="800.3" r="1.00"/><circle cx="51.6" cy="805.2" r="1.02"/><circle cx="63.6" cy="810.3" r="1.04"/><circle cx="75.4" cy="815.6" r="1.05"/><circle cx="87.1" cy="821.3" r="1.05"/><circle cx="98.7" cy="827.2" r="1.06"/><circle cx="110.2" cy="833.4" r="1.06"/><circle cx="121.4" cy="839.8" r="1.06"/><circle cx="132.5" cy="846.6" r="1.05"/><circle cx="143.5" cy="853.6" r="1.05"/><circle cx="154.2" cy="860.9" r="1.03"/><circle cx="164.8" cy="868.5" r="1.02"/><circle cx="175.1" cy="876.3" r="1.00"/><circle cx="185.3" cy="884.5" r="0.98"/><circle cx="195.3" cy="892.8" r="0.96"/><circle cx="205.0" cy="901.4" r="0.93"/><circle cx="214.5" cy="910.2" r="0.90"/><circle cx="223.9" cy="919.3" r="0.87"/><circle cx="233.0" cy="928.6" r="0.83"/><circle cx="241.9" cy="938.0" r="0.79"/><circle cx="250.6" cy="947.7" r="0.75"/><circle cx="259.1" cy="957.5" r="0.71"/><circle cx="267.5" cy="967.5" r="0.66"/><circle cx="275.6" cy="977.6" r="0.61"/><circle cx="283.5" cy="987.9" r="0.55"/><circle cx="291.3" cy="998.4" r="0.49"/><circle cx="298.8" cy="1008.9" r="0.42"/><circle cx="306.2" cy="1019.6" r="0.35"/><circle cx="-1.1" cy="772.3" r="0.80"/><circle cx="11.2" cy="776.5" r="0.83"/><circle cx="23.5" cy="780.8" r="0.86"/><circle cx="35.6" cy="785.3" r="0.89"/><circle cx="47.8" cy="790.1" r="0.91"/><circle cx="59.8" cy="795.0" r="0.92"/><circle cx="71.7" cy="800.2" r="0.94"/><circle cx="83.5" cy="805.6" r="0.95"/><circle cx="95.2" cy="811.3" r="0.96"/><circle cx="106.7" cy="817.3" r="0.96"/><circle cx="118.2" cy="823.5" r="0.96"/><circle cx="129.4" cy="830.0" r="0.96"/><circle cx="140.5" cy="836.8" r="0.95"/><circle cx="151.4" cy="843.9" r="0.94"/><circle cx="162.1" cy="851.2" r="0.93"/><circle cx="172.7" cy="858.8" r="0.92"/><circle cx="183.1" cy="866.7" r="0.90"/><circle cx="193.2" cy="874.8" r="0.88"/><circle cx="203.2" cy="883.1" r="0.86"/><circle cx="212.9" cy="891.7" r="0.83"/><circle cx="222.5" cy="900.5" r="0.80"/><circle cx="231.8" cy="909.6" r="0.77"/><circle cx="241.0" cy="918.8" r="0.74"/><circle cx="249.9" cy="928.2" r="0.70"/><circle cx="258.6" cy="937.9" r="0.66"/><circle cx="267.2" cy="947.7" r="0.61"/><circle cx="275.5" cy="957.6" r="0.56"/><circle cx="283.7" cy="967.8" r="0.51"/><circle cx="291.7" cy="978.0" r="0.45"/><circle cx="299.5" cy="988.4" r="0.39"/><circle cx="307.1" cy="999.0" r="0.32"/><circle cx="-5.2" cy="757.7" r="0.67"/><circle cx="7.2" cy="761.8" r="0.71"/><circle cx="19.4" cy="766.1" r="0.74"/><circle cx="31.7" cy="770.5" r="0.77"/><circle cx="43.8" cy="775.1" r="0.79"/><circle cx="55.9" cy="779.9" r="0.81"/><circle cx="67.9" cy="784.9" r="0.83"/><circle cx="79.8" cy="790.1" r="0.84"/><circle cx="91.6" cy="795.6" r="0.85"/><circle cx="103.2" cy="801.4" r="0.85"/><circle cx="114.8" cy="807.4" r="0.86"/><circle cx="126.2" cy="813.7" r="0.86"/><circle cx="137.4" cy="820.2" r="0.86"/><circle cx="148.5" cy="827.0" r="0.85"/><circle cx="159.4" cy="834.1" r="0.84"/><circle cx="170.1" cy="841.5" r="0.83"/><circle cx="180.6" cy="849.1" r="0.82"/><circle cx="191.0" cy="857.0" r="0.80"/><circle cx="201.1" cy="865.1" r="0.78"/><circle cx="211.1" cy="873.4" r="0.76"/><circle cx="220.8" cy="882.0" r="0.73"/><circle cx="230.4" cy="890.8" r="0.70"/><circle cx="239.8" cy="899.8" r="0.67"/><circle cx="248.9" cy="909.1" r="0.63"/><circle cx="257.9" cy="918.5" r="0.60"/><circle cx="266.7" cy="928.1" r="0.56"/><circle cx="275.2" cy="937.8" r="0.51"/><circle cx="283.6" cy="947.8" r="0.46"/><circle cx="291.8" cy="957.9" r="0.41"/><circle cx="299.8" cy="968.1" r="0.35"/><circle cx="3.1" cy="747.3" r="0.58"/><circle cx="15.4" cy="751.5" r="0.61"/><circle cx="27.7" cy="755.8" r="0.64"/><circle cx="39.9" cy="760.2" r="0.67"/><circle cx="52.0" cy="764.9" r="0.69"/><circle cx="64.1" cy="769.7" r="0.71"/><circle cx="76.0" cy="774.8" r="0.72"/><circle cx="87.9" cy="780.1" r="0.74"/><circle cx="99.7" cy="785.7" r="0.75"/><circle cx="111.3" cy="791.5" r="0.75"/><circle cx="122.8" cy="797.5" r="0.75"/><circle cx="134.2" cy="803.8" r="0.75"/><circle cx="145.4" cy="810.4" r="0.75"/><circle cx="156.4" cy="817.3" r="0.74"/><circle cx="167.3" cy="824.4" r="0.74"/><circle cx="178.0" cy="831.8" r="0.72"/><circle cx="188.5" cy="839.4" r="0.71"/><circle cx="198.9" cy="847.3" r="0.69"/><circle cx="209.0" cy="855.4" r="0.67"/><circle cx="219.0" cy="863.7" r="0.65"/><circle cx="228.7" cy="872.3" r="0.62"/><circle cx="238.3" cy="881.1" r="0.60"/><circle cx="247.7" cy="890.1" r="0.56"/><circle cx="256.9" cy="899.3" r="0.53"/><circle cx="265.9" cy="908.7" r="0.49"/><circle cx="274.7" cy="918.3" r="0.45"/><circle cx="283.3" cy="928.0" r="0.40"/><circle cx="291.7" cy="937.9" r="0.35"/><circle cx="-1.0" cy="732.8" r="0.44"/><circle cx="11.3" cy="736.9" r="0.48"/><circle cx="23.6" cy="741.1" r="0.51"/><circle cx="35.9" cy="745.4" r="0.54"/><circle cx="48.1" cy="749.9" r="0.57"/><circle cx="60.2" cy="754.7" r="0.59"/><circle cx="72.2" cy="759.6" r="0.60"/><circle cx="84.2" cy="764.7" r="0.62"/><circle cx="96.0" cy="770.1" r="0.63"/><circle cx="107.7" cy="775.7" r="0.64"/><circle cx="119.3" cy="781.5" r="0.64"/><circle cx="130.8" cy="787.7" r="0.64"/><circle cx="142.1" cy="794.0" r="0.64"/><circle cx="153.3" cy="800.7" r="0.64"/><circle cx="164.4" cy="807.5" r="0.63"/><circle cx="175.2" cy="814.7" r="0.62"/><circle cx="185.9" cy="822.1" r="0.61"/><circle cx="196.4" cy="829.7" r="0.60"/><circle cx="206.8" cy="837.6" r="0.58"/><circle cx="216.9" cy="845.7" r="0.56"/><circle cx="226.9" cy="854.1" r="0.54"/><circle cx="236.7" cy="862.6" r="0.51"/><circle cx="246.2" cy="871.4" r="0.48"/><circle cx="255.6" cy="880.4" r="0.45"/><circle cx="264.8" cy="889.6" r="0.41"/><circle cx="273.8" cy="899.0" r="0.37"/><circle cx="282.7" cy="908.5" r="0.33"/><circle cx="7.3" cy="722.3" r="0.33"/><circle cx="19.6" cy="726.5" r="0.37"/><circle cx="31.9" cy="730.7" r="0.40"/><circle cx="44.1" cy="735.1" r="0.43"/><circle cx="56.3" cy="739.7" r="0.45"/><circle cx="68.4" cy="744.5" r="0.47"/><circle cx="80.4" cy="749.4" r="0.49"/><circle cx="92.3" cy="754.6" r="0.51"/><circle cx="104.1" cy="760.1" r="0.52"/><circle cx="115.8" cy="765.7" r="0.52"/><circle cx="127.4" cy="771.6" r="0.53"/><circle cx="138.8" cy="777.8" r="0.53"/><circle cx="150.1" cy="784.2" r="0.53"/><circle cx="161.3" cy="790.9" r="0.52"/><circle cx="172.3" cy="797.8" r="0.52"/><circle cx="183.2" cy="805.0" r="0.51"/><circle cx="193.8" cy="812.4" r="0.50"/><circle cx="204.3" cy="820.0" r="0.48"/><circle cx="214.7" cy="827.9" r="0.46"/><circle cx="224.8" cy="836.0" r="0.44"/><circle cx="234.8" cy="844.4" r="0.42"/><circle cx="244.6" cy="852.9" r="0.39"/><circle cx="254.2" cy="861.7" r="0.36"/><circle cx="263.6" cy="870.7" r="0.33"/><circle cx="52.3" cy="724.8" r="0.31"/><circle cx="64.5" cy="729.5" r="0.33"/><circle cx="76.5" cy="734.3" r="0.35"/><circle cx="88.5" cy="739.3" r="0.37"/><circle cx="100.4" cy="744.6" r="0.38"/><circle cx="112.2" cy="750.1" r="0.39"/><circle cx="123.9" cy="755.8" r="0.40"/><circle cx="135.4" cy="761.7" r="0.41"/><circle cx="146.8" cy="767.9" r="0.41"/><circle cx="158.1" cy="774.4" r="0.40"/><circle cx="169.3" cy="781.1" r="0.40"/><circle cx="180.3" cy="788.0" r="0.39"/><circle cx="191.1" cy="795.2" r="0.38"/><circle cx="201.8" cy="802.7" r="0.37"/><circle cx="212.3" cy="810.3" r="0.35"/><circle cx="222.6" cy="818.2" r="0.33"/><circle cx="232.7" cy="826.3" r="0.31"/></g>
<g fill="#e6e6e6" transform="rotate(180 515 515)"><ellipse cx="-0.7" cy="877.6" rx="1.30" ry="0.39" transform="rotate(21 -0.7 877.6)"/><ellipse cx="7.2" cy="880.7" rx="1.30" ry="0.39" transform="rotate(21 7.2 880.7)"/><ellipse cx="15.1" cy="883.9" rx="1.30" ry="0.39" transform="rotate(22 15.1 883.9)"/><ellipse cx="23.0" cy="887.2" rx="1.30" ry="0.39" transform="rotate(23 23.0 887.2)"/><ellipse cx="30.7" cy="890.5" rx="1.30" ry="0.39" transform="rotate(24 30.7 890.5)"/><ellipse cx="38.5" cy="894.1" rx="1.30" ry="0.39" transform="rotate(25 38.5 894.1)"/><ellipse cx="46.1" cy="897.7" rx="1.30" ry="0.39" transform="rotate(26 46.1 897.7)"/><ellipse cx="53.8" cy="901.5" rx="1.30" ry="0.39" transform="rotate(27 53.8 901.5)"/><ellipse cx="61.3" cy="905.5" rx="1.30" ry="0.39" transform="rotate(28 61.3 905.5)"/><ellipse cx="68.7" cy="909.5" rx="1.30" ry="0.39" transform="rotate(29 68.7 909.5)"/><ellipse cx="76.1" cy="913.8" rx="1.30" ry="0.39" transform="rotate(30 76.1 913.8)"/><ellipse cx="83.4" cy="918.1" rx="1.30" ry="0.39" transform="rotate(31 83.4 918.1)"/><ellipse cx="90.6" cy="922.6" rx="1.30" ry="0.39" transform="rotate(33 90.6 922.6)"/><ellipse cx="97.7" cy="927.3" rx="1.30" ry="0.39" transform="rotate(34 97.7 927.3)"/><ellipse cx="104.7" cy="932.1" rx="1.30" ry="0.39" transform="rotate(35 104.7 932.1)"/><ellipse cx="111.7" cy="937.0" rx="1.30" ry="0.39" transform="rotate(36 111.7 937.0)"/><ellipse cx="118.5" cy="942.1" rx="1.30" ry="0.39" transform="rotate(37 118.5 942.1)"/><ellipse cx="125.2" cy="947.3" rx="1.30" ry="0.39" transform="rotate(38 125.2 947.3)"/><ellipse cx="131.8" cy="952.7" rx="1.30" ry="0.39" transform="rotate(40 131.8 952.7)"/><ellipse cx="138.3" cy="958.2" rx="1.30" ry="0.39" transform="rotate(41 138.3 958.2)"/><ellipse cx="144.7" cy="963.8" rx="1.30" ry="0.39" transform="rotate(42 144.7 963.8)"/><ellipse cx="151.0" cy="969.5" rx="1.30" ry="0.39" transform="rotate(43 151.0 969.5)"/><ellipse cx="157.2" cy="975.3" rx="1.30" ry="0.39" transform="rotate(44 157.2 975.3)"/><ellipse cx="163.2" cy="981.3" rx="1.30" ry="0.39" transform="rotate(45 163.2 981.3)"/><ellipse cx="169.2" cy="987.3" rx="1.30" ry="0.39" transform="rotate(46 169.2 987.3)"/><ellipse cx="175.1" cy="993.5" rx="1.30" ry="0.39" transform="rotate(47 175.1 993.5)"/><ellipse cx="180.8" cy="999.7" rx="1.30" ry="0.39" transform="rotate(48 180.8 999.7)"/><ellipse cx="186.5" cy="1006.0" rx="1.30" ry="0.39" transform="rotate(49 186.5 1006.0)"/><ellipse cx="192.1" cy="1012.5" rx="1.30" ry="0.39" transform="rotate(50 192.1 1012.5)"/><ellipse cx="197.5" cy="1019.0" rx="1.30" ry="0.39" transform="rotate(50 197.5 1019.0)"/><ellipse cx="202.9" cy="1025.6" rx="1.30" ry="0.39" transform="rotate(51 202.9 1025.6)"/><ellipse cx="208.2" cy="1032.2" rx="1.30" ry="0.39" transform="rotate(52 208.2 1032.2)"/><ellipse cx="1.8" cy="881.6" rx="1.78" ry="0.71" transform="rotate(21 1.8 881.6)"/><ellipse cx="10.9" cy="885.2" rx="1.78" ry="0.71" transform="rotate(22 10.9 885.2)"/><ellipse cx="20.0" cy="888.9" rx="1.78" ry="0.71" transform="rotate(23 20.0 888.9)"/><ellipse cx="28.9" cy="892.8" rx="1.78" ry="0.71" transform="rotate(24 28.9 892.8)"/><ellipse cx="37.9" cy="896.9" rx="1.78" ry="0.71" transform="rotate(25 37.9 896.9)"/><ellipse cx="46.7" cy="901.1" rx="1.78" ry="0.71" transform="rotate(26 46.7 901.1)"/><ellipse cx="55.4" cy="905.5" rx="1.78" ry="0.71" transform="rotate(27 55.4 905.5)"/><ellipse cx="64.1" cy="910.2" rx="1.78" ry="0.71" transform="rotate(29 64.1 910.2)"/><ellipse cx="72.6" cy="915.0" rx="1.78" ry="0.71" transform="rotate(30 72.6 915.0)"/><ellipse cx="81.1" cy="920.0" rx="1.78" ry="0.71" transform="rotate(31 81.1 920.0)"/><ellipse cx="89.4" cy="925.2" rx="1.78" ry="0.71" transform="rotate(33 89.4 925.2)"/><ellipse cx="97.6" cy="930.6" rx="1.78" ry="0.71" transform="rotate(34 97.6 930.6)"/><ellipse cx="105.6" cy="936.1" rx="1.78" ry="0.71" transform="rotate(35 105.6 936.1)"/><ellipse cx="113.5" cy="941.9" rx="1.78" ry="0.71" transform="rotate(37 113.5 941.9)"/><ellipse cx="121.3" cy="947.9" rx="1.78" ry="0.71" transform="rotate(38 121.3 947.9)"/><ellipse cx="129.0" cy="954.0" rx="1.78" ry="0.71" transform="rotate(39 129.0 954.0)"/><ellipse cx="136.5" cy="960.3" rx="1.78" ry="0.71" transform="rotate(41 136.5 960.3)"/><ellipse cx="143.8" cy="966.8" rx="1.78" ry="0.71" transform="rotate(42 143.8 966.8)"/><ellipse cx="151.0" cy="973.4" rx="1.78" ry="0.71" transform="rotate(43 151.0 973.4)"/><ellipse cx="158.1" cy="980.2" rx="1.78" ry="0.71" transform="rotate(44 158.1 980.2)"/><ellipse cx="165.1" cy="987.1" rx="1.78" ry="0.71" transform="rotate(45 165.1 987.1)"/><ellipse cx="171.9" cy="994.1" rx="1.78" ry="0.71" transform="rotate(47 171.9 994.1)"/><ellipse cx="178.5" cy="1001.3" rx="1.78" ry="0.71" transform="rotate(48 178.5 1001.3)"/><ellipse cx="185.1" cy="1008.6" rx="1.78" ry="0.71" transform="rotate(49 185.1 1008.6)"/><ellipse cx="191.5" cy="1016.1" rx="1.78" ry="0.71" transform="rotate(50 191.5 1016.1)"/><ellipse cx="197.7" cy="1023.6" rx="1.78" ry="0.71" transform="rotate(51 197.7 1023.6)"/><ellipse cx="203.9" cy="1031.2" rx="1.78" ry="0.71" transform="rotate(52 203.9 1031.2)"/><ellipse cx="-5.7" cy="883.3" rx="2.26" ry="1.13" transform="rotate(21 -5.7 883.3)"/><ellipse cx="4.7" cy="887.2" rx="2.26" ry="1.13" transform="rotate(21 4.7 887.2)"/><ellipse cx="15.0" cy="891.4" rx="2.26" ry="1.13" transform="rotate(23 15.0 891.4)"/><ellipse cx="25.2" cy="895.7" rx="2.26" ry="1.13" transform="rotate(24 25.2 895.7)"/><ellipse cx="35.3" cy="900.3" rx="2.26" ry="1.13" transform="rotate(25 35.3 900.3)"/><ellipse cx="45.3" cy="905.1" rx="2.26" ry="1.13" transform="rotate(26 45.3 905.1)"/><ellipse cx="55.2" cy="910.2" rx="2.26" ry="1.13" transform="rotate(28 55.2 910.2)"/><ellipse cx="65.0" cy="915.4" rx="2.26" ry="1.13" transform="rotate(29 65.0 915.4)"/><ellipse cx="74.6" cy="921.0" rx="2.26" ry="1.13" transform="rotate(31 74.6 921.0)"/><ellipse cx="84.0" cy="926.8" rx="2.26" ry="1.13" transform="rotate(32 84.0 926.8)"/><ellipse cx="93.4" cy="932.8" rx="2.26" ry="1.13" transform="rotate(34 93.4 932.8)"/><ellipse cx="102.5" cy="939.1" rx="2.26" ry="1.13" transform="rotate(35 102.5 939.1)"/><ellipse cx="111.5" cy="945.6" rx="2.26" ry="1.13" transform="rotate(37 111.5 945.6)"/><ellipse cx="120.3" cy="952.4" rx="2.26" ry="1.13" transform="rotate(38 120.3 952.4)"/><ellipse cx="128.9" cy="959.4" rx="2.26" ry="1.13" transform="rotate(40 128.9 959.4)"/><ellipse cx="137.3" cy="966.6" rx="2.26" ry="1.13" transform="rotate(41 137.3 966.6)"/><ellipse cx="145.6" cy="974.0" rx="2.26" ry="1.13" transform="rotate(43 145.6 974.0)"/><ellipse cx="153.6" cy="981.7" rx="2.26" ry="1.13" transform="rotate(44 153.6 981.7)"/><ellipse cx="161.5" cy="989.5" rx="2.26" ry="1.13" transform="rotate(45 161.5 989.5)"/><ellipse cx="169.2" cy="997.5" rx="2.26" ry="1.13" transform="rotate(47 169.2 997.5)"/><ellipse cx="176.8" cy="1005.6" rx="2.26" ry="1.13" transform="rotate(48 176.8 1005.6)"/><ellipse cx="184.1" cy="1013.9" rx="2.26" ry="1.13" transform="rotate(49 184.1 1013.9)"/><ellipse cx="191.3" cy="1022.4" rx="2.26" ry="1.13" transform="rotate(50 191.3 1022.4)"/><ellipse cx="198.3" cy="1031.0" rx="2.26" ry="1.13" transform="rotate(51 198.3 1031.0)"/><ellipse cx="-3.5" cy="890.0" rx="2.74" ry="1.64" transform="rotate(21 -3.5 890.0)"/><ellipse cx="8.0" cy="894.6" rx="2.74" ry="1.64" transform="rotate(22 8.0 894.6)"/><ellipse cx="19.4" cy="899.4" rx="2.74" ry="1.64" transform="rotate(23 19.4 899.4)"/><ellipse cx="30.8" cy="904.4" rx="2.74" ry="1.64" transform="rotate(25 30.8 904.4)"/><ellipse cx="42.0" cy="909.7" rx="2.74" ry="1.64" transform="rotate(26 42.0 909.7)"/><ellipse cx="53.0" cy="915.3" rx="2.74" ry="1.64" transform="rotate(28 53.0 915.3)"/><ellipse cx="63.9" cy="921.3" rx="2.74" ry="1.64" transform="rotate(29 63.9 921.3)"/><ellipse cx="74.6" cy="927.5" rx="2.74" ry="1.64" transform="rotate(31 74.6 927.5)"/><ellipse cx="85.1" cy="934.1" rx="2.74" ry="1.64" transform="rotate(33 85.1 934.1)"/><ellipse cx="95.4" cy="941.0" rx="2.74" ry="1.64" transform="rotate(35 95.4 941.0)"/><ellipse cx="105.5" cy="948.2" rx="2.74" ry="1.64" transform="rotate(36 105.5 948.2)"/><ellipse cx="115.4" cy="955.7" rx="2.74" ry="1.64" transform="rotate(38 115.4 955.7)"/><ellipse cx="125.1" cy="963.5" rx="2.74" ry="1.64" transform="rotate(40 125.1 963.5)"/><ellipse cx="134.5" cy="971.5" rx="2.74" ry="1.64" transform="rotate(41 134.5 971.5)"/><ellipse cx="143.6" cy="979.9" rx="2.74" ry="1.64" transform="rotate(43 143.6 979.9)"/><ellipse cx="152.6" cy="988.5" rx="2.74" ry="1.64" transform="rotate(45 152.6 988.5)"/><ellipse cx="161.3" cy="997.3" rx="2.74" ry="1.64" transform="rotate(46 161.3 997.3)"/><ellipse cx="169.8" cy="1006.3" rx="2.74" ry="1.64" transform="rotate(47 169.8 1006.3)"/><ellipse cx="178.1" cy="1015.5" rx="2.74" ry="1.64" transform="rotate(49 178.1 1015.5)"/><ellipse cx="186.1" cy="1025.0" rx="2.74" ry="1.64" transform="rotate(50 186.1 1025.0)"/><ellipse cx="194.0" cy="1034.6" rx="2.74" ry="1.64" transform="rotate(51 194.0 1034.6)"/><ellipse cx="-1.0" cy="898.5" rx="3.22" ry="2.25" transform="rotate(21 -1.0 898.5)"/><ellipse cx="11.7" cy="903.7" rx="3.22" ry="2.25" transform="rotate(23 11.7 903.7)"/><ellipse cx="24.3" cy="909.1" rx="3.22" ry="2.25" transform="rotate(24 24.3 909.1)"/><ellipse cx="36.7" cy="914.9" rx="3.22" ry="2.25" transform="rotate(26 36.7 914.9)"/><ellipse cx="48.9" cy="921.1" rx="3.22" ry="2.25" transform="rotate(28 48.9 921.1)"/><ellipse cx="60.9" cy="927.6" rx="3.22" ry="2.25" transform="rotate(30 60.9 927.6)"/><ellipse cx="72.8" cy="934.6" rx="3.22" ry="2.25" transform="rotate(31 72.8 934.6)"/><ellipse cx="84.3" cy="941.9" rx="3.22" ry="2.25" transform="rotate(33 84.3 941.9)"/><ellipse cx="95.6" cy="949.7" rx="3.22" ry="2.25" transform="rotate(35 95.6 949.7)"/><ellipse cx="106.7" cy="957.8" rx="3.22" ry="2.25" transform="rotate(37 106.7 957.8)"/><ellipse cx="117.4" cy="966.3" rx="3.22" ry="2.25" transform="rotate(39 117.4 966.3)"/><ellipse cx="127.9" cy="975.1" rx="3.22" ry="2.25" transform="rotate(41 127.9 975.1)"/><ellipse cx="138.1" cy="984.3" rx="3.22" ry="2.25" transform="rotate(43 138.1 984.3)"/><ellipse cx="148.0" cy="993.7" rx="3.22" ry="2.25" transform="rotate(45 148.0 993.7)"/><ellipse cx="157.6" cy="1003.5" rx="3.22" ry="2.25" transform="rotate(46 157.6 1003.5)"/><ellipse cx="166.9" cy="1013.5" rx="3.22" ry="2.25" transform="rotate(48 166.9 1013.5)"/><ellipse cx="176.0" cy="1023.8" rx="3.22" ry="2.25" transform="rotate(49 176.0 1023.8)"/><ellipse cx="184.8" cy="1034.3" rx="3.22" ry="2.25" transform="rotate(51 184.8 1034.3)"/><ellipse cx="1.9" cy="908.7" rx="3.70" ry="2.96" transform="rotate(22 1.9 908.7)"/><ellipse cx="15.8" cy="914.6" rx="3.70" ry="2.96" transform="rotate(24 15.8 914.6)"/><ellipse cx="29.4" cy="920.8" rx="3.70" ry="2.96" transform="rotate(25 29.4 920.8)"/><ellipse cx="42.9" cy="927.4" rx="3.70" ry="2.96" transform="rotate(27 42.9 927.4)"/><ellipse cx="56.1" cy="934.5" rx="3.70" ry="2.96" transform="rotate(29 56.1 934.5)"/><ellipse cx="69.0" cy="942.1" rx="3.70" ry="2.96" transform="rotate(32 69.0 942.1)"/><ellipse cx="81.6" cy="950.2" rx="3.70" ry="2.96" transform="rotate(34 81.6 950.2)"/><ellipse cx="94.0" cy="958.8" rx="3.70" ry="2.96" transform="rotate(36 94.0 958.8)"/><ellipse cx="105.9" cy="967.8" rx="3.70" ry="2.96" transform="rotate(38 105.9 967.8)"/><ellipse cx="117.6" cy="977.3" rx="3.70" ry="2.96" transform="rotate(40 117.6 977.3)"/><ellipse cx="128.8" cy="987.2" rx="3.70" ry="2.96" transform="rotate(42 128.8 987.2)"/><ellipse cx="139.8" cy="997.5" rx="3.70" ry="2.96" transform="rotate(44 139.8 997.5)"/><ellipse cx="150.3" cy="1008.1" rx="3.70" ry="2.96" transform="rotate(46 150.3 1008.1)"/><ellipse cx="160.6" cy="1019.0" rx="3.70" ry="2.96" transform="rotate(48 160.6 1019.0)"/><ellipse cx="170.5" cy="1030.3" rx="3.70" ry="2.96" transform="rotate(49 170.5 1030.3)"/><ellipse cx="5.3" cy="920.7" rx="4.18" ry="3.76" transform="rotate(23 5.3 920.7)"/><ellipse cx="20.2" cy="927.3" rx="4.18" ry="3.76" transform="rotate(25 20.2 927.3)"/><ellipse cx="34.9" cy="934.3" rx="4.18" ry="3.76" transform="rotate(27 34.9 934.3)"/><ellipse cx="49.3" cy="942.0" rx="4.18" ry="3.76" transform="rotate(29 49.3 942.0)"/><ellipse cx="63.4" cy="950.2" rx="4.18" ry="3.76" transform="rotate(31 63.4 950.2)"/><ellipse cx="77.1" cy="959.0" rx="4.18" ry="3.76" transform="rotate(34 77.1 959.0)"/><ellipse cx="90.4" cy="968.4" rx="4.18" ry="3.76" transform="rotate(36 90.4 968.4)"/><ellipse cx="103.4" cy="978.3" rx="4.18" ry="3.76" transform="rotate(39 103.4 978.3)"/><ellipse cx="115.9" cy="988.7" rx="4.18" ry="3.76" transform="rotate(41 115.9 988.7)"/><ellipse cx="127.9" cy="999.7" rx="4.18" ry="3.76" transform="rotate(43 127.9 999.7)"/><ellipse cx="139.6" cy="1011.1" rx="4.18" ry="3.76" transform="rotate(45 139.6 1011.1)"/><ellipse cx="150.8" cy="1022.9" rx="4.18" ry="3.76" transform="rotate(47 150.8 1022.9)"/><ellipse cx="161.7" cy="1035.1" rx="4.18" ry="3.76" transform="rotate(49 161.7 1035.1)"/><circle cx="9.0" cy="934.5" r="4.66"/><circle cx="24.9" cy="941.9" r="4.66"/><circle cx="40.6" cy="950.0" r="4.66"/><circle cx="55.9" cy="958.7" r="4.66"/><circle cx="70.7" cy="968.2" r="4.66"/><circle cx="85.1" cy="978.3" r="4.66"/><circle cx="99.0" cy="989.1" r="4.66"/><circle cx="112.3" cy="1000.6" r="4.66"/><circle cx="125.2" cy="1012.6" r="4.66"/><circle cx="137.6" cy="1025.1" r="4.66"/><circle cx="-5.1" cy="942.2" r="4.70"/><circle cx="11.4" cy="949.4" r="4.70"/><circle cx="27.5" cy="957.3" r="4.70"/><circle cx="43.3" cy="965.9" r="4.70"/><circle cx="58.7" cy="975.3" r="4.70"/><circle cx="73.5" cy="985.5" r="4.70"/><circle cx="87.9" cy="996.4" r="4.70"/><circle cx="101.6" cy="1007.9" r="4.70"/><circle cx="114.9" cy="1020.1" r="4.70"/><circle cx="127.6" cy="1032.9" r="4.70"/><circle cx="-3.8" cy="957.9" r="4.70"/><circle cx="12.6" cy="965.5" r="4.70"/><circle cx="28.6" cy="973.7" r="4.70"/><circle cx="44.1" cy="982.7" r="4.70"/><circle cx="59.2" cy="992.5" r="4.70"/><circle cx="73.8" cy="1003.1" r="4.70"/><circle cx="87.8" cy="1014.4" r="4.70"/><circle cx="101.2" cy="1026.4" r="4.70"/><circle cx="-3.0" cy="975.1" r="4.70"/><circle cx="13.2" cy="983.0" r="4.70"/><circle cx="29.0" cy="991.6" r="4.70"/><circle cx="44.3" cy="1001.1" r="4.70"/><circle cx="59.1" cy="1011.3" r="4.70"/><circle cx="73.3" cy="1022.4" r="4.70"/><circle cx="86.9" cy="1034.2" r="4.70"/><circle cx="-2.8" cy="993.8" r="4.70"/><circle cx="13.2" cy="1002.0" r="4.70"/><circle cx="28.8" cy="1011.1" r="4.70"/><circle cx="43.8" cy="1021.0" r="4.70"/><circle cx="58.2" cy="1031.8" r="4.70"/><circle cx="-3.1" cy="1013.8" r="4.70"/><circle cx="12.7" cy="1022.4" r="4.70"/><circle cx="28.0" cy="1032.0" r="4.70"/><circle cx="-3.5" cy="1033.9" r="4.70"/><ellipse cx="0.9" cy="873.4" rx="1.98" ry="0.59" transform="rotate(21 0.9 873.4)"/><ellipse cx="8.4" cy="876.3" rx="2.00" ry="0.60" transform="rotate(21 8.4 876.3)"/><ellipse cx="15.8" cy="879.3" rx="2.02" ry="0.61" transform="rotate(22 15.8 879.3)"/><ellipse cx="23.2" cy="882.4" rx="2.04" ry="0.61" transform="rotate(23 23.2 882.4)"/><ellipse cx="30.5" cy="885.5" rx="2.05" ry="0.62" transform="rotate(24 30.5 885.5)"/><ellipse cx="37.8" cy="888.8" rx="2.07" ry="0.62" transform="rotate(25 37.8 888.8)"/><ellipse cx="45.0" cy="892.2" rx="2.08" ry="0.62" transform="rotate(26 45.0 892.2)"/><ellipse cx="52.2" cy="895.7" rx="2.08" ry="0.62" transform="rotate(27 52.2 895.7)"/><ellipse cx="59.4" cy="899.4" rx="2.09" ry="0.63" transform="rotate(28 59.4 899.4)"/><ellipse cx="66.4" cy="903.1" rx="2.09" ry="0.63" transform="rotate(29 66.4 903.1)"/><ellipse cx="73.4" cy="907.0" rx="2.09" ry="0.63" transform="rotate(30 73.4 907.0)"/><ellipse cx="80.3" cy="911.0" rx="2.09" ry="0.63" transform="rotate(31 80.3 911.0)"/><ellipse cx="87.2" cy="915.2" rx="2.08" ry="0.62" transform="rotate(32 87.2 915.2)"/><ellipse cx="93.9" cy="919.4" rx="2.07" ry="0.62" transform="rotate(33 93.9 919.4)"/><ellipse cx="100.6" cy="923.8" rx="2.06" ry="0.62" transform="rotate(34 100.6 923.8)"/><ellipse cx="107.2" cy="928.3" rx="2.05" ry="0.62" transform="rotate(35 107.2 928.3)"/><ellipse cx="113.7" cy="933.0" rx="2.04" ry="0.61" transform="rotate(36 113.7 933.0)"/><ellipse cx="120.2" cy="937.8" rx="2.02" ry="0.61" transform="rotate(37 120.2 937.8)"/><ellipse cx="126.5" cy="942.6" rx="2.00" ry="0.60" transform="rotate(38 126.5 942.6)"/><ellipse cx="132.7" cy="947.7" rx="1.98" ry="0.59" transform="rotate(39 132.7 947.7)"/><ellipse cx="138.9" cy="952.8" rx="1.96" ry="0.59" transform="rotate(40 138.9 952.8)"/><ellipse cx="144.9" cy="958.0" rx="1.93" ry="0.58" transform="rotate(41 144.9 958.0)"/><ellipse cx="150.9" cy="963.3" rx="1.90" ry="0.57" transform="rotate(42 150.9 963.3)"/><ellipse cx="156.8" cy="968.8" rx="1.88" ry="0.56" transform="rotate(43 156.8 968.8)"/><ellipse cx="162.6" cy="974.3" rx="1.84" ry="0.55" transform="rotate(44 162.6 974.3)"/><ellipse cx="168.2" cy="979.9" rx="1.81" ry="0.54" transform="rotate(45 168.2 979.9)"/><ellipse cx="173.8" cy="985.6" rx="1.78" ry="0.53" transform="rotate(46 173.8 985.6)"/><ellipse cx="179.3" cy="991.4" rx="1.74" ry="0.52" transform="rotate(47 179.3 991.4)"/><ellipse cx="184.8" cy="997.3" rx="1.70" ry="0.51" transform="rotate(48 184.8 997.3)"/><ellipse cx="190.1" cy="1003.3" rx="1.67" ry="0.50" transform="rotate(49 190.1 1003.3)"/><ellipse cx="195.3" cy="1009.3" rx="1.63" ry="0.49" transform="rotate(49 195.3 1009.3)"/><ellipse cx="200.5" cy="1015.5" rx="1.58" ry="0.48" transform="rotate(50 200.5 1015.5)"/><ellipse cx="205.5" cy="1021.7" rx="1.54" ry="0.46" transform="rotate(51 205.5 1021.7)"/><ellipse cx="210.5" cy="1027.9" rx="1.49" ry="0.45" transform="rotate(52 210.5 1027.9)"/><ellipse cx="215.4" cy="1034.2" rx="1.45" ry="0.43" transform="rotate(53 215.4 1034.2)"/><ellipse cx="-3.7" cy="868.3" rx="1.81" ry="0.76" transform="rotate(20 -3.7 868.3)"/><ellipse cx="4.6" cy="871.4" rx="1.83" ry="0.77" transform="rotate(21 4.6 871.4)"/><ellipse cx="12.9" cy="874.7" rx="1.86" ry="0.78" transform="rotate(22 12.9 874.7)"/><ellipse cx="21.1" cy="878.0" rx="1.87" ry="0.79" transform="rotate(23 21.1 878.0)"/><ellipse cx="29.3" cy="881.5" rx="1.89" ry="0.79" transform="rotate(23 29.3 881.5)"/><ellipse cx="37.5" cy="885.1" rx="1.90" ry="0.80" transform="rotate(24 37.5 885.1)"/><ellipse cx="45.5" cy="888.9" rx="1.92" ry="0.80" transform="rotate(25 45.5 888.9)"/><ellipse cx="53.5" cy="892.8" rx="1.92" ry="0.81" transform="rotate(27 53.5 892.8)"/><ellipse cx="61.4" cy="896.8" rx="1.93" ry="0.81" transform="rotate(28 61.4 896.8)"/><ellipse cx="69.3" cy="901.0" rx="1.93" ry="0.81" transform="rotate(29 69.3 901.0)"/><ellipse cx="77.0" cy="905.4" rx="1.93" ry="0.81" transform="rotate(30 77.0 905.4)"/><ellipse cx="84.7" cy="909.9" rx="1.93" ry="0.81" transform="rotate(31 84.7 909.9)"/><ellipse cx="92.3" cy="914.6" rx="1.92" ry="0.81" transform="rotate(32 92.3 914.6)"/><ellipse cx="99.8" cy="919.4" rx="1.91" ry="0.80" transform="rotate(33 99.8 919.4)"/><ellipse cx="107.1" cy="924.4" rx="1.90" ry="0.80" transform="rotate(35 107.1 924.4)"/><ellipse cx="114.4" cy="929.5" rx="1.88" ry="0.79" transform="rotate(36 114.4 929.5)"/><ellipse cx="121.6" cy="934.8" rx="1.87" ry="0.78" transform="rotate(37 121.6 934.8)"/><ellipse cx="128.6" cy="940.2" rx="1.85" ry="0.78" transform="rotate(38 128.6 940.2)"/><ellipse cx="135.6" cy="945.8" rx="1.83" ry="0.77" transform="rotate(39 135.6 945.8)"/><ellipse cx="142.4" cy="951.5" rx="1.80" ry="0.76" transform="rotate(41 142.4 951.5)"/><ellipse cx="149.1" cy="957.4" rx="1.77" ry="0.75" transform="rotate(42 149.1 957.4)"/><ellipse cx="155.7" cy="963.4" rx="1.75" ry="0.73" transform="rotate(43 155.7 963.4)"/><ellipse cx="162.2" cy="969.5" rx="1.72" ry="0.72" transform="rotate(44 162.2 969.5)"/><ellipse cx="168.5" cy="975.7" rx="1.68" ry="0.71" transform="rotate(45 168.5 975.7)"/><ellipse cx="174.8" cy="982.0" rx="1.65" ry="0.69" transform="rotate(46 174.8 982.0)"/><ellipse cx="180.9" cy="988.4" rx="1.61" ry="0.68" transform="rotate(47 180.9 988.4)"/><ellipse cx="187.0" cy="995.0" rx="1.57" ry="0.66" transform="rotate(48 187.0 995.0)"/><ellipse cx="192.9" cy="1001.6" rx="1.53" ry="0.64" transform="rotate(49 192.9 1001.6)"/><ellipse cx="198.7" cy="1008.4" rx="1.49" ry="0.63" transform="rotate(50 198.7 1008.4)"/><ellipse cx="204.4" cy="1015.2" rx="1.45" ry="0.61" transform="rotate(51 204.4 1015.2)"/><ellipse cx="210.0" cy="1022.1" rx="1.40" ry="0.59" transform="rotate(51 210.0 1022.1)"/><ellipse cx="215.5" cy="1029.1" rx="1.35" ry="0.57" transform="rotate(52 215.5 1029.1)"/><ellipse cx="0.3" cy="864.6" rx="1.69" ry="0.91" transform="rotate(20 0.3 864.6)"/><ellipse cx="9.4" cy="868.0" rx="1.72" ry="0.93" transform="rotate(21 9.4 868.0)"/><ellipse cx="18.5" cy="871.7" rx="1.74" ry="0.94" transform="rotate(22 18.5 871.7)"/><ellipse cx="27.6" cy="875.4" rx="1.75" ry="0.95" transform="rotate(23 27.6 875.4)"/><ellipse cx="36.6" cy="879.3" rx="1.77" ry="0.96" transform="rotate(24 36.6 879.3)"/><ellipse cx="45.5" cy="883.4" rx="1.78" ry="0.96" transform="rotate(25 45.5 883.4)"/><ellipse cx="54.3" cy="887.7" rx="1.79" ry="0.97" transform="rotate(26 54.3 887.7)"/><ellipse cx="63.0" cy="892.1" rx="1.80" ry="0.97" transform="rotate(28 63.0 892.1)"/><ellipse cx="71.7" cy="896.8" rx="1.80" ry="0.97" transform="rotate(29 71.7 896.8)"/><ellipse cx="80.2" cy="901.6" rx="1.80" ry="0.97" transform="rotate(30 80.2 901.6)"/><ellipse cx="88.6" cy="906.6" rx="1.79" ry="0.97" transform="rotate(31 88.6 906.6)"/><ellipse cx="97.0" cy="911.7" rx="1.79" ry="0.96" transform="rotate(33 97.0 911.7)"/><ellipse cx="105.2" cy="917.1" rx="1.78" ry="0.96" transform="rotate(34 105.2 917.1)"/><ellipse cx="113.2" cy="922.7" rx="1.76" ry="0.95" transform="rotate(35 113.2 922.7)"/><ellipse cx="121.2" cy="928.4" rx="1.75" ry="0.94" transform="rotate(36 121.2 928.4)"/><ellipse cx="129.0" cy="934.3" rx="1.73" ry="0.93" transform="rotate(38 129.0 934.3)"/><ellipse cx="136.7" cy="940.4" rx="1.71" ry="0.92" transform="rotate(39 136.7 940.4)"/><ellipse cx="144.2" cy="946.7" rx="1.68" ry="0.91" transform="rotate(40 144.2 946.7)"/><ellipse cx="151.6" cy="953.1" rx="1.66" ry="0.89" transform="rotate(42 151.6 953.1)"/><ellipse cx="158.9" cy="959.6" rx="1.63" ry="0.88" transform="rotate(43 158.9 959.6)"/><ellipse cx="166.0" cy="966.4" rx="1.59" ry="0.86" transform="rotate(44 166.0 966.4)"/><ellipse cx="173.0" cy="973.2" rx="1.56" ry="0.84" transform="rotate(45 173.0 973.2)"/><ellipse cx="179.9" cy="980.2" rx="1.52" ry="0.82" transform="rotate(46 179.9 980.2)"/><ellipse cx="186.6" cy="987.4" rx="1.49" ry="0.80" transform="rotate(47 186.6 987.4)"/><ellipse cx="193.2" cy="994.6" rx="1.45" ry="0.78" transform="rotate(48 193.2 994.6)"/><ellipse cx="199.7" cy="1002.0" rx="1.40" ry="0.76" transform="rotate(49 199.7 1002.0)"/><ellipse cx="206.0" cy="1009.4" rx="1.36" ry="0.73" transform="rotate(50 206.0 1009.4)"/><ellipse cx="212.2" cy="1017.0" rx="1.31" ry="0.71" transform="rotate(51 212.2 1017.0)"/><ellipse cx="218.3" cy="1024.7" rx="1.26" ry="0.68" transform="rotate(52 218.3 1024.7)"/><ellipse cx="224.3" cy="1032.5" rx="1.21" ry="0.65" transform="rotate(53 224.3 1032.5)"/><ellipse cx="-4.6" cy="855.7" rx="1.56" ry="1.03" transform="rotate(20 -4.6 855.7)"/><ellipse cx="5.4" cy="859.4" rx="1.59" ry="1.05" transform="rotate(21 5.4 859.4)"/><ellipse cx="15.4" cy="863.3" rx="1.61" ry="1.06" transform="rotate(22 15.4 863.3)"/><ellipse cx="25.3" cy="867.3" rx="1.63" ry="1.08" transform="rotate(23 25.3 867.3)"/><ellipse cx="35.1" cy="871.5" rx="1.65" ry="1.09" transform="rotate(24 35.1 871.5)"/><ellipse cx="44.9" cy="875.9" rx="1.66" ry="1.10" transform="rotate(25 44.9 875.9)"/><ellipse cx="54.6" cy="880.5" rx="1.67" ry="1.10" transform="rotate(26 54.6 880.5)"/><ellipse cx="64.1" cy="885.3" rx="1.68" ry="1.11" transform="rotate(27 64.1 885.3)"/><ellipse cx="73.6" cy="890.3" rx="1.68" ry="1.11" transform="rotate(29 73.6 890.3)"/><ellipse cx="82.9" cy="895.5" rx="1.68" ry="1.11" transform="rotate(30 82.9 895.5)"/><ellipse cx="92.1" cy="900.9" rx="1.68" ry="1.11" transform="rotate(31 92.1 900.9)"/><ellipse cx="101.2" cy="906.6" rx="1.67" ry="1.10" transform="rotate(33 101.2 906.6)"/><ellipse cx="110.1" cy="912.5" rx="1.66" ry="1.10" transform="rotate(34 110.1 912.5)"/><ellipse cx="118.9" cy="918.6" rx="1.65" ry="1.09" transform="rotate(35 118.9 918.6)"/><ellipse cx="127.6" cy="924.9" rx="1.63" ry="1.08" transform="rotate(37 127.6 924.9)"/><ellipse cx="136.0" cy="931.4" rx="1.61" ry="1.06" transform="rotate(38 136.0 931.4)"/><ellipse cx="144.4" cy="938.2" rx="1.59" ry="1.05" transform="rotate(40 144.4 938.2)"/><ellipse cx="152.5" cy="945.1" rx="1.56" ry="1.03" transform="rotate(41 152.5 945.1)"/><ellipse cx="160.5" cy="952.2" rx="1.53" ry="1.01" transform="rotate(42 160.5 952.2)"/><ellipse cx="168.4" cy="959.5" rx="1.50" ry="0.99" transform="rotate(44 168.4 959.5)"/><ellipse cx="176.0" cy="966.9" rx="1.46" ry="0.97" transform="rotate(45 176.0 966.9)"/><ellipse cx="183.6" cy="974.5" rx="1.43" ry="0.94" transform="rotate(46 183.6 974.5)"/><ellipse cx="190.9" cy="982.3" rx="1.39" ry="0.92" transform="rotate(47 190.9 982.3)"/><ellipse cx="198.1" cy="990.2" rx="1.35" ry="0.89" transform="rotate(48 198.1 990.2)"/><ellipse cx="205.2" cy="998.3" rx="1.30" ry="0.86" transform="rotate(49 205.2 998.3)"/><ellipse cx="212.1" cy="1006.4" rx="1.26" ry="0.83" transform="rotate(50 212.1 1006.4)"/><ellipse cx="218.8" cy="1014.7" rx="1.21" ry="0.80" transform="rotate(51 218.8 1014.7)"/><ellipse cx="225.5" cy="1023.1" rx="1.16" ry="0.76" transform="rotate(52 225.5 1023.1)"/><ellipse cx="231.9" cy="1031.7" rx="1.10" ry="0.73" transform="rotate(53 231.9 1031.7)"/><ellipse cx="0.8" cy="848.9" rx="1.47" ry="1.14" transform="rotate(20 0.8 848.9)"/><ellipse cx="11.6" cy="852.9" rx="1.49" ry="1.17" transform="rotate(21 11.6 852.9)"/><ellipse cx="22.4" cy="857.2" rx="1.52" ry="1.18" transform="rotate(22 22.4 857.2)"/><ellipse cx="33.1" cy="861.6" rx="1.54" ry="1.20" transform="rotate(23 33.1 861.6)"/><ellipse cx="43.8" cy="866.3" rx="1.55" ry="1.21" transform="rotate(24 43.8 866.3)"/><ellipse cx="54.3" cy="871.1" rx="1.56" ry="1.22" transform="rotate(26 54.3 871.1)"/><ellipse cx="64.7" cy="876.2" rx="1.57" ry="1.23" transform="rotate(27 64.7 876.2)"/><ellipse cx="75.0" cy="881.6" rx="1.58" ry="1.23" transform="rotate(28 75.0 881.6)"/><ellipse cx="85.1" cy="887.2" rx="1.58" ry="1.23" transform="rotate(30 85.1 887.2)"/><ellipse cx="95.2" cy="893.1" rx="1.57" ry="1.23" transform="rotate(31 95.2 893.1)"/><ellipse cx="105.0" cy="899.2" rx="1.57" ry="1.22" transform="rotate(33 105.0 899.2)"/><ellipse cx="114.7" cy="905.6" rx="1.56" ry="1.21" transform="rotate(34 114.7 905.6)"/><ellipse cx="124.2" cy="912.2" rx="1.54" ry="1.20" transform="rotate(36 124.2 912.2)"/><ellipse cx="133.6" cy="919.1" rx="1.52" ry="1.19" transform="rotate(37 133.6 919.1)"/><ellipse cx="142.7" cy="926.2" rx="1.50" ry="1.17" transform="rotate(39 142.7 926.2)"/><ellipse cx="151.7" cy="933.5" rx="1.48" ry="1.15" transform="rotate(40 151.7 933.5)"/><ellipse cx="160.5" cy="941.1" rx="1.45" ry="1.13" transform="rotate(41 160.5 941.1)"/><ellipse cx="169.1" cy="948.8" rx="1.42" ry="1.11" transform="rotate(43 169.1 948.8)"/><ellipse cx="177.6" cy="956.8" rx="1.39" ry="1.08" transform="rotate(44 177.6 956.8)"/><ellipse cx="185.8" cy="965.0" rx="1.35" ry="1.05" transform="rotate(45 185.8 965.0)"/><ellipse cx="193.9" cy="973.3" rx="1.31" ry="1.02" transform="rotate(47 193.9 973.3)"/><ellipse cx="201.7" cy="981.8" rx="1.27" ry="0.99" transform="rotate(48 201.7 981.8)"/><ellipse cx="209.4" cy="990.5" rx="1.22" ry="0.95" transform="rotate(49 209.4 990.5)"/><ellipse cx="217.0" cy="999.3" rx="1.18" ry="0.92" transform="rotate(50 217.0 999.3)"/><ellipse cx="224.3" cy="1008.3" rx="1.13" ry="0.88" transform="rotate(51 224.3 1008.3)"/><ellipse cx="231.5" cy="1017.4" rx="1.07" ry="0.84" transform="rotate(52 231.5 1017.4)"/><ellipse cx="238.5" cy="1026.6" rx="1.02" ry="0.79" transform="rotate(53 238.5 1026.6)"/><ellipse cx="245.4" cy="1036.0" rx="0.96" ry="0.75" transform="rotate(54 245.4 1036.0)"/><ellipse cx="-4.4" cy="836.4" rx="1.35" ry="1.21" transform="rotate(19 -4.4 836.4)"/><ellipse cx="7.3" cy="840.6" rx="1.38" ry="1.24" transform="rotate(20 7.3 840.6)"/><ellipse cx="19.0" cy="845.0" rx="1.40" ry="1.26" transform="rotate(21 19.0 845.0)"/><ellipse cx="30.6" cy="849.7" rx="1.43" ry="1.28" transform="rotate(22 30.6 849.7)"/><ellipse cx="42.1" cy="854.6" rx="1.44" ry="1.30" transform="rotate(24 42.1 854.6)"/><ellipse cx="53.5" cy="859.7" rx="1.46" ry="1.31" transform="rotate(25 53.5 859.7)"/><ellipse cx="64.8" cy="865.1" rx="1.47" ry="1.32" transform="rotate(26 64.8 865.1)"/><ellipse cx="75.9" cy="870.8" rx="1.47" ry="1.32" transform="rotate(28 75.9 870.8)"/><ellipse cx="86.9" cy="876.7" rx="1.47" ry="1.33" transform="rotate(29 86.9 876.7)"/><ellipse cx="97.7" cy="883.0" rx="1.47" ry="1.32" transform="rotate(31 97.7 883.0)"/><ellipse cx="108.4" cy="889.5" rx="1.46" ry="1.32" transform="rotate(32 108.4 889.5)"/><ellipse cx="118.9" cy="896.3" rx="1.45" ry="1.31" transform="rotate(34 118.9 896.3)"/><ellipse cx="129.1" cy="903.4" rx="1.44" ry="1.30" transform="rotate(35 129.1 903.4)"/><ellipse cx="139.2" cy="910.8" rx="1.42" ry="1.28" transform="rotate(37 139.2 910.8)"/><ellipse cx="149.1" cy="918.5" rx="1.40" ry="1.26" transform="rotate(39 149.1 918.5)"/><ellipse cx="158.8" cy="926.4" rx="1.38" ry="1.24" transform="rotate(40 158.8 926.4)"/><ellipse cx="168.3" cy="934.5" rx="1.35" ry="1.21" transform="rotate(42 168.3 934.5)"/><ellipse cx="177.5" cy="943.0" rx="1.32" ry="1.18" transform="rotate(43 177.5 943.0)"/><ellipse cx="186.5" cy="951.6" rx="1.28" ry="1.15" transform="rotate(44 186.5 951.6)"/><ellipse cx="195.4" cy="960.4" rx="1.24" ry="1.12" transform="rotate(46 195.4 960.4)"/><ellipse cx="204.0" cy="969.5" rx="1.20" ry="1.08" transform="rotate(47 204.0 969.5)"/><ellipse cx="212.4" cy="978.7" rx="1.16" ry="1.04" transform="rotate(48 212.4 978.7)"/><ellipse cx="220.6" cy="988.2" rx="1.11" ry="1.00" transform="rotate(50 220.6 988.2)"/><ellipse cx="228.6" cy="997.7" rx="1.06" ry="0.95" transform="rotate(51 228.6 997.7)"/><ellipse cx="236.5" cy="1007.5" rx="1.01" ry="0.91" transform="rotate(52 236.5 1007.5)"/><ellipse cx="244.1" cy="1017.4" rx="0.95" ry="0.85" transform="rotate(53 244.1 1017.4)"/><ellipse cx="251.6" cy="1027.4" rx="0.89" ry="0.80" transform="rotate(54 251.6 1027.4)"/><circle cx="2.8" cy="826.5" r="1.25"/><circle cx="15.0" cy="831.0" r="1.28"/><circle cx="27.1" cy="835.7" r="1.31"/><circle cx="39.2" cy="840.6" r="1.33"/><circle cx="51.1" cy="845.8" r="1.34"/><circle cx="62.9" cy="851.2" r="1.36"/><circle cx="74.6" cy="856.9" r="1.36"/><circle cx="86.1" cy="862.9" r="1.37"/><circle cx="97.5" cy="869.3" r="1.37"/><circle cx="108.6" cy="875.9" r="1.36"/><circle cx="119.6" cy="882.8" r="1.36"/><circle cx="130.4" cy="890.1" r="1.34"/><circle cx="141.0" cy="897.6" r="1.33"/><circle cx="151.4" cy="905.4" r="1.31"/><circle cx="161.6" cy="913.5" r="1.29"/><circle cx="171.5" cy="921.9" r="1.26"/><circle cx="181.3" cy="930.5" r="1.23"/><circle cx="190.8" cy="939.4" r="1.20"/><circle cx="200.0" cy="948.5" r="1.16"/><circle cx="209.1" cy="957.8" r="1.12"/><circle cx="217.9" cy="967.4" r="1.08"/><circle cx="226.5" cy="977.1" r="1.03"/><circle cx="234.9" cy="987.0" r="0.98"/><circle cx="243.1" cy="997.1" r="0.93"/><circle cx="251.2" cy="1007.3" r="0.87"/><circle cx="259.0" cy="1017.7" r="0.81"/><circle cx="266.6" cy="1028.3" r="0.75"/><circle cx="-1.2" cy="811.8" r="1.13"/><circle cx="11.0" cy="816.2" r="1.16"/><circle cx="23.2" cy="820.7" r="1.19"/><circle cx="35.3" cy="825.5" r="1.21"/><circle cx="47.3" cy="830.5" r="1.23"/><circle cx="59.2" cy="835.7" r="1.24"/><circle cx="71.0" cy="841.2" r="1.25"/><circle cx="82.6" cy="847.0" r="1.26"/><circle cx="94.1" cy="853.1" r="1.26"/><circle cx="105.5" cy="859.4" r="1.26"/><circle cx="116.6" cy="866.1" r="1.26"/><circle cx="127.6" cy="873.1" r="1.25"/><circle cx="138.4" cy="880.3" r="1.24"/><circle cx="149.0" cy="887.9" r="1.22"/><circle cx="159.3" cy="895.7" r="1.20"/><circle cx="169.5" cy="903.8" r="1.18"/><circle cx="179.4" cy="912.2" r="1.16"/><circle cx="189.2" cy="920.8" r="1.13"/><circle cx="198.7" cy="929.7" r="1.10"/><circle cx="208.0" cy="938.8" r="1.06"/><circle cx="217.1" cy="948.1" r="1.02"/><circle cx="225.9" cy="957.6" r="0.98"/><circle cx="234.6" cy="967.3" r="0.94"/><circle cx="243.0" cy="977.2" r="0.89"/><circle cx="251.3" cy="987.2" r="0.84"/><circle cx="259.3" cy="997.4" r="0.78"/><circle cx="267.2" cy="1007.8" r="0.73"/><circle cx="274.8" cy="1018.3" r="0.66"/><circle cx="282.3" cy="1028.9" r="0.60"/><circle cx="-5.3" cy="797.2" r="1.01"/><circle cx="7.0" cy="801.5" r="1.04"/><circle cx="19.2" cy="805.9" r="1.07"/><circle cx="31.4" cy="810.5" r="1.09"/><circle cx="43.5" cy="815.3" r="1.12"/><circle cx="55.5" cy="820.4" r="1.13"/><circle cx="67.3" cy="825.7" r="1.14"/><circle cx="79.1" cy="831.2" r="1.15"/><circle cx="90.7" cy="837.1" r="1.16"/><circle cx="102.1" cy="843.2" r="1.16"/><circle cx="113.4" cy="849.6" r="1.16"/><circle cx="124.6" cy="856.3" r="1.15"/><circle cx="135.5" cy="863.3" r="1.15"/><circle cx="146.3" cy="870.6" r="1.14"/><circle cx="156.9" cy="878.2" r="1.12"/><circle cx="167.2" cy="886.0" r="1.10"/><circle cx="177.4" cy="894.1" r="1.08"/><circle cx="187.4" cy="902.5" r="1.06"/><circle cx="197.1" cy="911.1" r="1.03"/><circle cx="206.6" cy="920.0" r="1.00"/><circle cx="215.9" cy="929.0" r="0.97"/><circle cx="225.0" cy="938.3" r="0.93"/><circle cx="233.9" cy="947.8" r="0.89"/><circle cx="242.6" cy="957.5" r="0.85"/><circle cx="251.1" cy="967.3" r="0.80"/><circle cx="259.4" cy="977.3" r="0.75"/><circle cx="267.4" cy="987.5" r="0.70"/><circle cx="275.3" cy="997.9" r="0.64"/><circle cx="283.0" cy="1008.3" r="0.58"/><circle cx="290.6" cy="1018.9" r="0.51"/><circle cx="297.9" cy="1029.6" r="0.44"/><circle cx="3.0" cy="786.8" r="0.92"/><circle cx="15.2" cy="791.1" r="0.95"/><circle cx="27.4" cy="795.6" r="0.98"/><circle cx="39.6" cy="800.3" r="1.00"/><circle cx="51.6" cy="805.2" r="1.02"/><circle cx="63.6" cy="810.3" r="1.04"/><circle cx="75.4" cy="815.6" r="1.05"/><circle cx="87.1" cy="821.3" r="1.05"/><circle cx="98.7" cy="827.2" r="1.06"/><circle cx="110.2" cy="833.4" r="1.06"/><circle cx="121.4" cy="839.8" r="1.06"/><circle cx="132.5" cy="846.6" r="1.05"/><circle cx="143.5" cy="853.6" r="1.05"/><circle cx="154.2" cy="860.9" r="1.03"/><circle cx="164.8" cy="868.5" r="1.02"/><circle cx="175.1" cy="876.3" r="1.00"/><circle cx="185.3" cy="884.5" r="0.98"/><circle cx="195.3" cy="892.8" r="0.96"/><circle cx="205.0" cy="901.4" r="0.93"/><circle cx="214.5" cy="910.2" r="0.90"/><circle cx="223.9" cy="919.3" r="0.87"/><circle cx="233.0" cy="928.6" r="0.83"/><circle cx="241.9" cy="938.0" r="0.79"/><circle cx="250.6" cy="947.7" r="0.75"/><circle cx="259.1" cy="957.5" r="0.71"/><circle cx="267.5" cy="967.5" r="0.66"/><circle cx="275.6" cy="977.6" r="0.61"/><circle cx="283.5" cy="987.9" r="0.55"/><circle cx="291.3" cy="998.4" r="0.49"/><circle cx="298.8" cy="1008.9" r="0.42"/><circle cx="306.2" cy="1019.6" r="0.35"/><circle cx="-1.1" cy="772.3" r="0.80"/><circle cx="11.2" cy="776.5" r="0.83"/><circle cx="23.5" cy="780.8" r="0.86"/><circle cx="35.6" cy="785.3" r="0.89"/><circle cx="47.8" cy="790.1" r="0.91"/><circle cx="59.8" cy="795.0" r="0.92"/><circle cx="71.7" cy="800.2" r="0.94"/><circle cx="83.5" cy="805.6" r="0.95"/><circle cx="95.2" cy="811.3" r="0.96"/><circle cx="106.7" cy="817.3" r="0.96"/><circle cx="118.2" cy="823.5" r="0.96"/><circle cx="129.4" cy="830.0" r="0.96"/><circle cx="140.5" cy="836.8" r="0.95"/><circle cx="151.4" cy="843.9" r="0.94"/><circle cx="162.1" cy="851.2" r="0.93"/><circle cx="172.7" cy="858.8" r="0.92"/><circle cx="183.1" cy="866.7" r="0.90"/><circle cx="193.2" cy="874.8" r="0.88"/><circle cx="203.2" cy="883.1" r="0.86"/><circle cx="212.9" cy="891.7" r="0.83"/><circle cx="222.5" cy="900.5" r="0.80"/><circle cx="231.8" cy="909.6" r="0.77"/><circle cx="241.0" cy="918.8" r="0.74"/><circle cx="249.9" cy="928.2" r="0.70"/><circle cx="258.6" cy="937.9" r="0.66"/><circle cx="267.2" cy="947.7" r="0.61"/><circle cx="275.5" cy="957.6" r="0.56"/><circle cx="283.7" cy="967.8" r="0.51"/><circle cx="291.7" cy="978.0" r="0.45"/><circle cx="299.5" cy="988.4" r="0.39"/><circle cx="307.1" cy="999.0" r="0.32"/><circle cx="-5.2" cy="757.7" r="0.67"/><circle cx="7.2" cy="761.8" r="0.71"/><circle cx="19.4" cy="766.1" r="0.74"/><circle cx="31.7" cy="770.5" r="0.77"/><circle cx="43.8" cy="775.1" r="0.79"/><circle cx="55.9" cy="779.9" r="0.81"/><circle cx="67.9" cy="784.9" r="0.83"/><circle cx="79.8" cy="790.1" r="0.84"/><circle cx="91.6" cy="795.6" r="0.85"/><circle cx="103.2" cy="801.4" r="0.85"/><circle cx="114.8" cy="807.4" r="0.86"/><circle cx="126.2" cy="813.7" r="0.86"/><circle cx="137.4" cy="820.2" r="0.86"/><circle cx="148.5" cy="827.0" r="0.85"/><circle cx="159.4" cy="834.1" r="0.84"/><circle cx="170.1" cy="841.5" r="0.83"/><circle cx="180.6" cy="849.1" r="0.82"/><circle cx="191.0" cy="857.0" r="0.80"/><circle cx="201.1" cy="865.1" r="0.78"/><circle cx="211.1" cy="873.4" r="0.76"/><circle cx="220.8" cy="882.0" r="0.73"/><circle cx="230.4" cy="890.8" r="0.70"/><circle cx="239.8" cy="899.8" r="0.67"/><circle cx="248.9" cy="909.1" r="0.63"/><circle cx="257.9" cy="918.5" r="0.60"/><circle cx="266.7" cy="928.1" r="0.56"/><circle cx="275.2" cy="937.8" r="0.51"/><circle cx="283.6" cy="947.8" r="0.46"/><circle cx="291.8" cy="957.9" r="0.41"/><circle cx="299.8" cy="968.1" r="0.35"/><circle cx="3.1" cy="747.3" r="0.58"/><circle cx="15.4" cy="751.5" r="0.61"/><circle cx="27.7" cy="755.8" r="0.64"/><circle cx="39.9" cy="760.2" r="0.67"/><circle cx="52.0" cy="764.9" r="0.69"/><circle cx="64.1" cy="769.7" r="0.71"/><circle cx="76.0" cy="774.8" r="0.72"/><circle cx="87.9" cy="780.1" r="0.74"/><circle cx="99.7" cy="785.7" r="0.75"/><circle cx="111.3" cy="791.5" r="0.75"/><circle cx="122.8" cy="797.5" r="0.75"/><circle cx="134.2" cy="803.8" r="0.75"/><circle cx="145.4" cy="810.4" r="0.75"/><circle cx="156.4" cy="817.3" r="0.74"/><circle cx="167.3" cy="824.4" r="0.74"/><circle cx="178.0" cy="831.8" r="0.72"/><circle cx="188.5" cy="839.4" r="0.71"/><circle cx="198.9" cy="847.3" r="0.69"/><circle cx="209.0" cy="855.4" r="0.67"/><circle cx="219.0" cy="863.7" r="0.65"/><circle cx="228.7" cy="872.3" r="0.62"/><circle cx="238.3" cy="881.1" r="0.60"/><circle cx="247.7" cy="890.1" r="0.56"/><circle cx="256.9" cy="899.3" r="0.53"/><circle cx="265.9" cy="908.7" r="0.49"/><circle cx="274.7" cy="918.3" r="0.45"/><circle cx="283.3" cy="928.0" r="0.40"/><circle cx="291.7" cy="937.9" r="0.35"/><circle cx="-1.0" cy="732.8" r="0.44"/><circle cx="11.3" cy="736.9" r="0.48"/><circle cx="23.6" cy="741.1" r="0.51"/><circle cx="35.9" cy="745.4" r="0.54"/><circle cx="48.1" cy="749.9" r="0.57"/><circle cx="60.2" cy="754.7" r="0.59"/><circle cx="72.2" cy="759.6" r="0.60"/><circle cx="84.2" cy="764.7" r="0.62"/><circle cx="96.0" cy="770.1" r="0.63"/><circle cx="107.7" cy="775.7" r="0.64"/><circle cx="119.3" cy="781.5" r="0.64"/><circle cx="130.8" cy="787.7" r="0.64"/><circle cx="142.1" cy="794.0" r="0.64"/><circle cx="153.3" cy="800.7" r="0.64"/><circle cx="164.4" cy="807.5" r="0.63"/><circle cx="175.2" cy="814.7" r="0.62"/><circle cx="185.9" cy="822.1" r="0.61"/><circle cx="196.4" cy="829.7" r="0.60"/><circle cx="206.8" cy="837.6" r="0.58"/><circle cx="216.9" cy="845.7" r="0.56"/><circle cx="226.9" cy="854.1" r="0.54"/><circle cx="236.7" cy="862.6" r="0.51"/><circle cx="246.2" cy="871.4" r="0.48"/><circle cx="255.6" cy="880.4" r="0.45"/><circle cx="264.8" cy="889.6" r="0.41"/><circle cx="273.8" cy="899.0" r="0.37"/><circle cx="282.7" cy="908.5" r="0.33"/><circle cx="7.3" cy="722.3" r="0.33"/><circle cx="19.6" cy="726.5" r="0.37"/><circle cx="31.9" cy="730.7" r="0.40"/><circle cx="44.1" cy="735.1" r="0.43"/><circle cx="56.3" cy="739.7" r="0.45"/><circle cx="68.4" cy="744.5" r="0.47"/><circle cx="80.4" cy="749.4" r="0.49"/><circle cx="92.3" cy="754.6" r="0.51"/><circle cx="104.1" cy="760.1" r="0.52"/><circle cx="115.8" cy="765.7" r="0.52"/><circle cx="127.4" cy="771.6" r="0.53"/><circle cx="138.8" cy="777.8" r="0.53"/><circle cx="150.1" cy="784.2" r="0.53"/><circle cx="161.3" cy="790.9" r="0.52"/><circle cx="172.3" cy="797.8" r="0.52"/><circle cx="183.2" cy="805.0" r="0.51"/><circle cx="193.8" cy="812.4" r="0.50"/><circle cx="204.3" cy="820.0" r="0.48"/><circle cx="214.7" cy="827.9" r="0.46"/><circle cx="224.8" cy="836.0" r="0.44"/><circle cx="234.8" cy="844.4" r="0.42"/><circle cx="244.6" cy="852.9" r="0.39"/><circle cx="254.2" cy="861.7" r="0.36"/><circle cx="263.6" cy="870.7" r="0.33"/><circle cx="52.3" cy="724.8" r="0.31"/><circle cx="64.5" cy="729.5" r="0.33"/><circle cx="76.5" cy="734.3" r="0.35"/><circle cx="88.5" cy="739.3" r="0.37"/><circle cx="100.4" cy="744.6" r="0.38"/><circle cx="112.2" cy="750.1" r="0.39"/><circle cx="123.9" cy="755.8" r="0.40"/><circle cx="135.4" cy="761.7" r="0.41"/><circle cx="146.8" cy="767.9" r="0.41"/><circle cx="158.1" cy="774.4" r="0.40"/><circle cx="169.3" cy="781.1" r="0.40"/><circle cx="180.3" cy="788.0" r="0.39"/><circle cx="191.1" cy="795.2" r="0.38"/><circle cx="201.8" cy="802.7" r="0.37"/><circle cx="212.3" cy="810.3" r="0.35"/><circle cx="222.6" cy="818.2" r="0.33"/><circle cx="232.7" cy="826.3" r="0.31"/></g>
<rect x="331.2" y="66" width="12" height="7.8" fill="#0b5cb0"/>
<rect x="343.2" y="57.8" width="12.1" height="7.9" fill="#ff0808"/>
<polygon points="337.20,59.30 337.79,60.88 339.48,60.96 338.16,62.01 338.61,63.64 337.20,62.71 335.79,63.64 336.24,62.01 334.92,60.96 336.61,60.88" fill="#0b5cb0"/>
<polygon points="349.20,67.60 349.77,69.12 351.39,69.19 350.12,70.20 350.55,71.76 349.20,70.87 347.85,71.76 348.28,70.20 347.01,69.19 348.63,69.12" fill="#ff0808"/>
<polygon points="240.50,98.60 241.78,102.03 245.45,102.19 242.58,104.47 243.56,108.01 240.50,105.98 237.44,108.01 238.42,104.47 235.55,102.19 239.22,102.03" fill="#ff0808"/>
<polygon points="446.20,98.40 447.48,101.83 451.15,101.99 448.28,104.27 449.26,107.81 446.20,105.78 443.14,107.81 444.12,104.27 441.25,101.99 444.92,101.83" fill="#ff0808"/>
<rect x="466.5" y="57.4" width="1.5" height="53.1" fill="#a0a0a0"/>
<rect x="52.6" y="991.1" width="922.4" height="2.2" fill="#e82a2a"/>
</svg>
<div class="bar" style="top:262px;height:26.4px"></div>
<div class="st" style="top:323.8px;height:32.8px"></div>
<div class="st" style="top:389px;height:33px"></div>
<div class="bar" style="top:503px;height:26.3px"></div>
<div class="st" style="top:570.7px;height:53.6px"></div>
<div class="st" style="top:660.8px;height:53.6px"></div>
<div class="t" style="left:235.30px;top:82.00px;font-size:11.8px;font-weight:700;color:#787878;letter-spacing:5.369px;-webkit-text-stroke:0.25px #787878;">GOBIERNO NACIONAL</div>
<div class="t" style="left:254.05px;top:92.00px;font-size:22px;font-weight:700;color:#0d5dad;letter-spacing:-0.300px;word-spacing:0.5px;transform:scaleX(0.9479);-webkit-text-stroke:0.1px #0d5dad;">CON PASO FIRME</div>
<div class="t" style="left:484.21px;top:69.00px;font-size:14px;color:#6a6a6a;letter-spacing:-0.027px;transform:scaleX(0.9900);-webkit-text-stroke:0.1px #6a6a6a;">MINISTERIO DE GOBIERNO</div>
<div class="t" style="left:484.65px;top:88.00px;font-size:13.8px;color:#666;letter-spacing:0.634px;word-spacing:-0.5px;transform:scaleX(1.0500);-webkit-text-stroke:0.35px #666;">Dirección General del Sistema Penitenciario</div>
<div class="t" style="left:372.91px;top:174.00px;font-size:37.5px;font-weight:700;color:#0b5dae;letter-spacing:-0.300px;transform:scaleX(0.9438);-webkit-text-stroke:0.9px #0b5dae;">La</div>
<div class="t" style="left:423.76px;top:174.00px;font-size:37.5px;font-weight:700;color:#0b5dae;letter-spacing:0.241px;transform:scaleX(1.1200);-webkit-text-stroke:0.9px #0b5dae;">Nueva</div>
<div class="t" style="left:561.10px;top:174.00px;font-size:37.5px;font-weight:700;color:#0b5dae;letter-spacing:-0.300px;transform:scaleX(1.1163);-webkit-text-stroke:0.9px #0b5dae;">Joya</div>
<div class="t" style="left:63.94px;top:224.00px;font-size:22px;color:#3a3a3a;letter-spacing:0.305px;transform:scaleX(1.0600);-webkit-text-stroke:1.0px #3a3a3a;">Grupo A: <span style="letter-spacing:-0.795px">1</span>3 al <span style="letter-spacing:-0.795px">1</span>7 de octubre</div>
<div class="t" style="left:649.34px;top:224.00px;font-size:22px;color:#3a3a3a;letter-spacing:0.585px;transform:scaleX(1.0600);-webkit-text-stroke:1.0px #3a3a3a;">Grupo B: 20 al 24 de octubre</div>
<div class="t" style="left:76.00px;top:265.00px;font-size:20.3px;font-weight:700;color:#fff;letter-spacing:0.428px;word-spacing:-2px;transform:scaleX(1.0600);-webkit-text-stroke:0.4px #fff;">Visita Grupo A</div>
<div class="t" style="left:481.60px;top:265.00px;font-size:20.3px;font-weight:700;color:#fff;letter-spacing:0.438px;word-spacing:-2px;transform:scaleX(1.0600);-webkit-text-stroke:0.4px #fff;">Jueves</div>
<div class="t" style="left:729.40px;top:265.00px;font-size:20.3px;font-weight:700;color:#fff;letter-spacing:0.177px;word-spacing:-2px;transform:scaleX(1.0600);-webkit-text-stroke:0.4px #fff;">Visita Grupo B</div>
<div class="t" style="left:85.33px;top:297.00px;font-size:21px;letter-spacing:0.314px;word-spacing:-1px;transform:scaleX(1.0700);-webkit-text-stroke:0.3px #444444;">Sector D, mediana 6, patio 2</div>
<div class="t" style="left:408.53px;top:297.00px;font-size:21px;letter-spacing:-0.072px;word-spacing:-1px;transform:scaleX(1.0700);-webkit-text-stroke:0.3px #444444;">8:00</div>
<div class="t" style="left:457.63px;top:297.00px;font-size:21px;letter-spacing:0.636px;word-spacing:-1px;transform:scaleX(1.0700);-webkit-text-stroke:0.3px #444444;">a.m.</div>
<div class="t" style="left:515.64px;top:297.00px;font-size:21px;word-spacing:-1px;transform:scaleX(1.7600);">-</div>
<div class="t" style="left:538.96px;top:298.00px;font-size:21px;letter-spacing:-0.300px;word-spacing:-1px;transform:scaleX(1.0394);-webkit-text-stroke:0.3px #444444;">9:00</div>
<div class="t" style="left:587.93px;top:298.00px;font-size:21px;letter-spacing:0.106px;word-spacing:-1px;transform:scaleX(1.0700);-webkit-text-stroke:0.3px #444444;">a.m.</div>
<div class="t" style="left:662.23px;top:297.00px;font-size:21px;letter-spacing:-0.055px;word-spacing:-1px;transform:scaleX(1.0700);-webkit-text-stroke:0.3px #444444;">Sector B,  mediana <span style="letter-spacing:-1.735px">1</span>, patio <span style="letter-spacing:-1.735px">1</span></div>
<div class="t" style="left:85.33px;top:330.00px;font-size:21px;letter-spacing:0.217px;word-spacing:-1px;transform:scaleX(1.0700);-webkit-text-stroke:0.3px #444444;">Sector B, máxima 3, patio 2</div>
<div class="t" style="left:408.93px;top:330.00px;font-size:21px;letter-spacing:-0.196px;word-spacing:-1px;transform:scaleX(1.0700);-webkit-text-stroke:0.3px #444444;">9:00</div>
<div class="t" style="left:457.63px;top:330.00px;font-size:21px;letter-spacing:0.636px;word-spacing:-1px;transform:scaleX(1.0700);-webkit-text-stroke:0.3px #444444;">a.m.</div>
<div class="t" style="left:515.64px;top:330.00px;font-size:21px;word-spacing:-1px;transform:scaleX(1.7600);">-</div>
<div class="t" style="left:539.03px;top:331.00px;font-size:21px;letter-spacing:-0.300px;word-spacing:-1px;transform:scaleX(0.9749);-webkit-text-stroke:0.3px #444444;"><span style="letter-spacing:-1.980px">1</span>0:00</div>
<div class="t" style="left:594.93px;top:331.00px;font-size:21px;letter-spacing:0.106px;word-spacing:-1px;transform:scaleX(1.0700);-webkit-text-stroke:0.3px #444444;">a.m.</div>
<div class="t" style="left:662.23px;top:330.00px;font-size:21px;letter-spacing:0.163px;word-spacing:-1px;transform:scaleX(1.0700);-webkit-text-stroke:0.3px #444444;">Sector A, mediana 3, patio <span style="letter-spacing:-1.517px">1</span></div>
<div class="t" style="left:85.33px;top:362.00px;font-size:21px;letter-spacing:0.005px;word-spacing:-1px;transform:scaleX(1.0700);-webkit-text-stroke:0.3px #444444;">Sector C, extrema 2, patio <span style="letter-spacing:-1.675px">1</span></div>
<div class="t" style="left:402.40px;top:362.00px;font-size:21px;letter-spacing:-0.300px;word-spacing:-1px;transform:scaleX(0.9979);-webkit-text-stroke:0.3px #444444;"><span style="letter-spacing:-1.980px">1</span>0:00</div>
<div class="t" style="left:457.63px;top:362.00px;font-size:21px;letter-spacing:0.636px;word-spacing:-1px;transform:scaleX(1.0700);-webkit-text-stroke:0.3px #444444;">a.m.</div>
<div class="t" style="left:515.64px;top:362.00px;font-size:21px;word-spacing:-1px;transform:scaleX(1.7600);">-</div>
<div class="t" style="left:539.11px;top:363.00px;font-size:21px;letter-spacing:-0.300px;word-spacing:-1px;transform:scaleX(0.8884);-webkit-text-stroke:0.3px #444444;"><span style="letter-spacing:-1.980px">1</span><span style="letter-spacing:-1.980px">1</span>:00</div>
<div class="t" style="left:588.13px;top:363.00px;font-size:21px;letter-spacing:0.044px;word-spacing:-1px;transform:scaleX(1.0700);-webkit-text-stroke:0.3px #444444;">a.m.</div>
<div class="t" style="left:662.23px;top:363.00px;font-size:21px;letter-spacing:0.216px;word-spacing:-1px;transform:scaleX(1.0700);-webkit-text-stroke:0.3px #444444;">Sector C, extrema 3, patio 3</div>
<div class="t" style="left:85.33px;top:394.00px;font-size:21px;letter-spacing:0.293px;word-spacing:-1px;transform:scaleX(1.0700);-webkit-text-stroke:0.3px #444444;">Sector D, mediana 5, patio 2</div>
<div class="t" style="left:409.08px;top:394.00px;font-size:21px;letter-spacing:-0.300px;word-spacing:-1px;transform:scaleX(0.9174);-webkit-text-stroke:0.3px #444444;"><span style="letter-spacing:-1.980px">1</span><span style="letter-spacing:-1.980px">1</span>:00</div>
<div class="t" style="left:457.63px;top:394.00px;font-size:21px;letter-spacing:0.636px;word-spacing:-1px;transform:scaleX(1.0700);-webkit-text-stroke:0.3px #444444;">a.m.</div>
<div class="t" style="left:515.64px;top:394.00px;font-size:21px;word-spacing:-1px;transform:scaleX(1.7600);">-</div>
<div class="t" style="left:539.05px;top:395.00px;font-size:21px;letter-spacing:-0.300px;word-spacing:-1px;transform:scaleX(0.9498);-webkit-text-stroke:0.3px #444444;"><span style="letter-spacing:-1.980px">1</span>2:00</div>
<div class="t" style="left:593.73px;top:395.00px;font-size:21px;letter-spacing:-0.143px;word-spacing:-1px;transform:scaleX(1.0700);-webkit-text-stroke:0.3px #444444;">m.d.</div>
<div class="t" style="left:662.23px;top:396.00px;font-size:21px;letter-spacing:0.114px;word-spacing:-1px;transform:scaleX(1.0700);-webkit-text-stroke:0.3px #444444;">Sector D, mediana 6, patio <span style="letter-spacing:-1.566px">1</span></div>
<div class="t" style="left:85.33px;top:427.00px;font-size:21px;letter-spacing:0.268px;word-spacing:-1px;transform:scaleX(1.0700);-webkit-text-stroke:0.3px #444444;">Sector A, mínima 2, patio 2</div>
<div class="t" style="left:404.24px;top:427.00px;font-size:21px;letter-spacing:-0.300px;word-spacing:-1px;transform:scaleX(0.9603);-webkit-text-stroke:0.3px #444444;"><span style="letter-spacing:-1.980px">1</span>2:00</div>
<div class="t" style="left:457.63px;top:427.00px;font-size:21px;letter-spacing:0.636px;word-spacing:-1px;transform:scaleX(1.0700);-webkit-text-stroke:0.3px #444444;">m.d.</div>
<div class="t" style="left:515.64px;top:427.00px;font-size:21px;word-spacing:-1px;transform:scaleX(1.7600);">-</div>
<div class="t" style="left:539.10px;top:428.00px;font-size:21px;letter-spacing:-0.300px;word-spacing:-1px;transform:scaleX(0.8976);-webkit-text-stroke:0.3px #444444;"><span style="letter-spacing:-1.980px">1</span>:00</div>
<div class="t" style="left:581.63px;top:428.00px;font-size:21px;letter-spacing:0.075px;word-spacing:-1px;transform:scaleX(1.0700);-webkit-text-stroke:0.3px #444444;">p.m.</div>
<div class="t" style="left:662.23px;top:429.00px;font-size:21px;letter-spacing:0.163px;word-spacing:-1px;transform:scaleX(1.0700);-webkit-text-stroke:0.3px #444444;">Sector A, mediana 2, patio <span style="letter-spacing:-1.517px">1</span></div>
<div class="t" style="left:76.00px;top:506.00px;font-size:20.3px;font-weight:700;color:#fff;letter-spacing:0.428px;word-spacing:-2px;transform:scaleX(1.0600);-webkit-text-stroke:0.4px #fff;">Visita Grupo A</div>
<div class="t" style="left:478.00px;top:506.00px;font-size:20.3px;font-weight:700;color:#fff;letter-spacing:0.255px;word-spacing:-2px;transform:scaleX(1.0600);-webkit-text-stroke:0.4px #fff;">Viernes</div>
<div class="t" style="left:729.10px;top:506.00px;font-size:20.3px;font-weight:700;color:#fff;letter-spacing:0.184px;word-spacing:-2px;transform:scaleX(1.0600);-webkit-text-stroke:0.4px #fff;">Visita Grupo B</div>
<div class="t" style="left:85.33px;top:543.00px;font-size:21px;letter-spacing:0.315px;word-spacing:-1px;transform:scaleX(1.0700);-webkit-text-stroke:0.3px #444444;">Sector A, mediana 2, patio 2</div>
<div class="t" style="left:409.43px;top:542.00px;font-size:21px;letter-spacing:-0.300px;word-spacing:-1px;transform:scaleX(1.0656);-webkit-text-stroke:0.3px #444444;">8:00</div>
<div class="t" style="left:457.63px;top:542.00px;font-size:21px;letter-spacing:0.636px;word-spacing:-1px;transform:scaleX(1.0700);-webkit-text-stroke:0.3px #444444;">a.m.</div>
<div class="t" style="left:512.60px;top:542.00px;font-size:21px;word-spacing:-1px;transform:scaleX(1.6500);">-</div>
<div class="t" style="left:538.96px;top:544.00px;font-size:21px;letter-spacing:-0.300px;word-spacing:-1px;transform:scaleX(1.0394);-webkit-text-stroke:0.3px #444444;">9:00</div>
<div class="t" style="left:587.93px;top:544.00px;font-size:21px;letter-spacing:0.495px;word-spacing:-1px;transform:scaleX(1.0700);-webkit-text-stroke:0.3px #444444;">a.m.</div>
<div class="t" style="left:85.33px;top:589.00px;font-size:21px;letter-spacing:-0.093px;word-spacing:-1px;transform:scaleX(1.0700);-webkit-text-stroke:0.3px #444444;">Sector B, extrema 2, patio <span style="letter-spacing:-1.773px">1</span></div>
<div class="t" style="left:409.95px;top:587.00px;font-size:21px;letter-spacing:-0.300px;word-spacing:-1px;transform:scaleX(1.0525);-webkit-text-stroke:0.3px #444444;">9:00</div>
<div class="t" style="left:457.63px;top:587.00px;font-size:21px;letter-spacing:0.636px;word-spacing:-1px;transform:scaleX(1.0700);-webkit-text-stroke:0.3px #444444;">a.m.</div>
<div class="t" style="left:512.60px;top:587.00px;font-size:21px;word-spacing:-1px;transform:scaleX(1.6500);">-</div>
<div class="t" style="left:539.03px;top:588.00px;font-size:21px;letter-spacing:-0.300px;word-spacing:-1px;transform:scaleX(0.9749);-webkit-text-stroke:0.3px #444444;"><span style="letter-spacing:-1.980px">1</span>0:00</div>
<div class="t" style="left:594.93px;top:588.00px;font-size:21px;letter-spacing:0.262px;word-spacing:-1px;transform:scaleX(1.0700);-webkit-text-stroke:0.3px #444444;">a.m.</div>
<div class="t" style="left:85.33px;top:635.00px;font-size:21px;letter-spacing:0.208px;word-spacing:-1px;transform:scaleX(1.0700);-webkit-text-stroke:0.3px #444444;">Sector C, extrema 2, patio 2</div>
<div class="t" style="left:403.01px;top:632.00px;font-size:21px;letter-spacing:-0.300px;word-spacing:-1px;transform:scaleX(0.9854);-webkit-text-stroke:0.3px #444444;"><span style="letter-spacing:-1.980px">1</span>0:00</div>
<div class="t" style="left:457.63px;top:632.00px;font-size:21px;letter-spacing:0.636px;word-spacing:-1px;transform:scaleX(1.0700);-webkit-text-stroke:0.3px #444444;">a.m.</div>
<div class="t" style="left:512.60px;top:632.00px;font-size:21px;word-spacing:-1px;transform:scaleX(1.6500);">-</div>
<div class="t" style="left:539.11px;top:633.00px;font-size:21px;letter-spacing:-0.300px;word-spacing:-1px;transform:scaleX(0.8884);-webkit-text-stroke:0.3px #444444;"><span style="letter-spacing:-1.980px">1</span><span style="letter-spacing:-1.980px">1</span>:00</div>
<div class="t" style="left:588.13px;top:633.00px;font-size:21px;letter-spacing:0.433px;word-spacing:-1px;transform:scaleX(1.0700);-webkit-text-stroke:0.3px #444444;">a.m.</div>
<div class="t" style="left:85.33px;top:681.00px;font-size:21px;letter-spacing:0.285px;word-spacing:-1px;transform:scaleX(1.0700);-webkit-text-stroke:0.3px #444444;">Sector D, mediana 3, patio 2</div>
<div class="t" style="left:409.59px;top:680.00px;font-size:21px;letter-spacing:-0.300px;word-spacing:-1px;transform:scaleX(0.9063);-webkit-text-stroke:0.3px #444444;"><span style="letter-spacing:-1.980px">1</span><span style="letter-spacing:-1.980px">1</span>:00</div>
<div class="t" style="left:457.63px;top:680.00px;font-size:21px;letter-spacing:0.636px;word-spacing:-1px;transform:scaleX(1.0700);-webkit-text-stroke:0.3px #444444;">a.m.</div>
<div class="t" style="left:512.60px;top:676.00px;font-size:21px;word-spacing:-1px;transform:scaleX(1.6500);">-</div>
<div class="t" style="left:539.05px;top:681.00px;font-size:21px;letter-spacing:-0.300px;word-spacing:-1px;transform:scaleX(0.9498);-webkit-text-stroke:0.3px #444444;"><span style="letter-spacing:-1.980px">1</span>2:00</div>
<div class="t" style="left:593.73px;top:681.00px;font-size:21px;letter-spacing:0.168px;word-spacing:-1px;transform:scaleX(1.0700);-webkit-text-stroke:0.3px #444444;">m.d.</div>
<div class="t" style="left:85.33px;top:727.00px;font-size:21px;letter-spacing:-0.019px;word-spacing:-1px;transform:scaleX(1.0700);-webkit-text-stroke:0.3px #444444;">Sector E, probatorio, patio <span style="letter-spacing:-1.699px">1</span></div>
<div class="t" style="left:404.29px;top:726.00px;font-size:21px;letter-spacing:-0.300px;word-spacing:-1px;transform:scaleX(0.9592);-webkit-text-stroke:0.3px #444444;"><span style="letter-spacing:-1.980px">1</span>2:00</div>
<div class="t" style="left:457.63px;top:726.00px;font-size:21px;letter-spacing:0.636px;word-spacing:-1px;transform:scaleX(1.0700);-webkit-text-stroke:0.3px #444444;">m.d.</div>
<div class="t" style="left:512.60px;top:722.00px;font-size:21px;word-spacing:-1px;transform:scaleX(1.6500);">-</div>
<div class="t" style="left:539.10px;top:728.00px;font-size:21px;letter-spacing:-0.300px;word-spacing:-1px;transform:scaleX(0.8976);-webkit-text-stroke:0.3px #444444;"><span style="letter-spacing:-1.980px">1</span>:00</div>
<div class="t" style="left:581.63px;top:728.00px;font-size:21px;letter-spacing:0.355px;word-spacing:-1px;transform:scaleX(1.0700);-webkit-text-stroke:0.3px #444444;">p.m.</div>
<div class="t" style="left:662.13px;top:542.00px;font-size:21px;letter-spacing:0.125px;word-spacing:-1px;transform:scaleX(1.0700);-webkit-text-stroke:0.3px #444444;">Sector B, mediana <span style="letter-spacing:-1.555px">1</span>, patio 2</div>
<div class="t" style="left:662.13px;top:575.00px;font-size:21px;letter-spacing:0.107px;word-spacing:-1px;transform:scaleX(1.0700);-webkit-text-stroke:0.3px #444444;">Sector E, pre-libertad, patio <span style="letter-spacing:-1.573px">1</span></div>
<div class="t" style="left:663.60px;top:599.00px;font-size:21px;letter-spacing:-0.196px;word-spacing:-1px;transform:scaleX(1.0700);-webkit-text-stroke:0.3px #444444;">y 2</div>
<div class="t" style="left:662.13px;top:631.00px;font-size:21px;letter-spacing:0.071px;word-spacing:-1px;transform:scaleX(1.0700);-webkit-text-stroke:0.3px #444444;">Sector B, mediana 3, patio <span style="letter-spacing:-1.609px">1</span></div>
<div class="t" style="left:662.13px;top:664.00px;font-size:21px;letter-spacing:0.227px;word-spacing:-1px;transform:scaleX(1.0700);-webkit-text-stroke:0.3px #444444;">Sector E, libertad vigilada,</div>
<div class="t" style="left:662.53px;top:688.00px;font-size:21px;letter-spacing:0.159px;word-spacing:-1px;transform:scaleX(1.0700);-webkit-text-stroke:0.3px #444444;">patio <span style="letter-spacing:-1.521px">1</span> y 2</div>
<div class="t" style="left:662.13px;top:728.00px;font-size:21px;letter-spacing:-0.046px;word-spacing:-1px;transform:scaleX(1.0700);-webkit-text-stroke:0.3px #444444;">Sector A, mínima  <span style="letter-spacing:-1.726px">1</span>, patio <span style="letter-spacing:-1.726px">1</span></div>
<div class="t" style="left:307.86px;top:926.00px;font-size:23px;letter-spacing:0.797px;word-spacing:-1px;transform:scaleX(1.0700);-webkit-text-stroke:0.3px #444444;">Panamá, 24 de septiembre de 2025</div>
<div class="t" style="left:933.60px;top:960.00px;font-size:22.4px;letter-spacing:2.444px;word-spacing:-1px;transform:scaleX(1.0700);-webkit-text-stroke:0.3px #444444;">4/4</div>
</div>
</body></html>
